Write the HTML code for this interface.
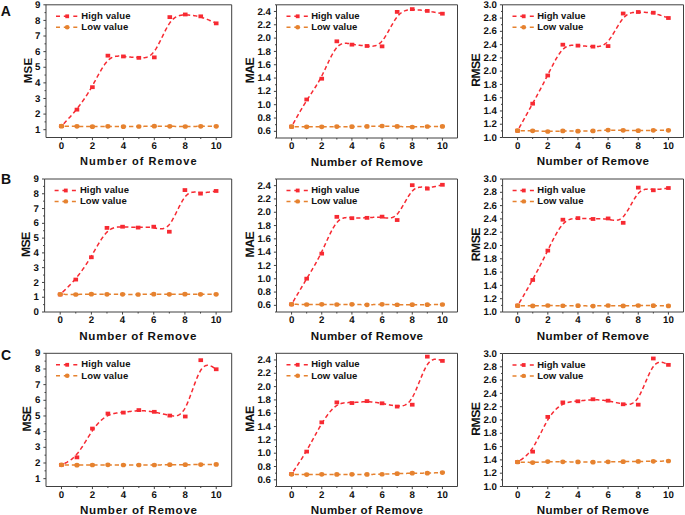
<!DOCTYPE html>
<html><head><meta charset="utf-8"><style>
html,body{margin:0;padding:0;background:#fff;}
svg{display:block;}
#wrap{width:685px;height:515px;}
text{font-family:"Liberation Sans", sans-serif;font-weight:bold;fill:#111111;}
.tl{font-size:9.4px;}
.tl2{font-size:9.7px;text-rendering:geometricPrecision;}
.at1{font-size:11px;letter-spacing:1.05px;}
.at2{font-size:11.6px;letter-spacing:0.4px;}
.at3{font-size:11.6px;letter-spacing:0.72px;}
.yl1{font-size:11.5px;letter-spacing:0.35px;}
.yl{font-size:12.2px;letter-spacing:-0.55px;text-rendering:geometricPrecision;}
.lg1{font-size:9.5px;letter-spacing:0.12px;}
.lg2{font-size:9.5px;letter-spacing:0.03px;}
.pl{font-size:14px;}
</style></head><body><div id="wrap">
<svg width="685" height="515" viewBox="0 0 685 515">
<rect width="685" height="515" fill="#fff"/>
<g>
<g><path d="M46.00 4.80H231.70V137.50H46.00Z" fill="none" stroke="#404040" stroke-width="1.0"/>
<path d="M43.40 129.69H46.00M43.40 114.08H46.00M43.40 98.47H46.00M43.40 82.86H46.00M43.40 67.25H46.00M43.40 51.64H46.00M43.40 36.02H46.00M43.40 20.41H46.00M43.40 4.80H46.00M44.50 121.89H46.00M44.50 106.28H46.00M44.50 90.66H46.00M44.50 75.05H46.00M44.50 59.44H46.00M44.50 43.83H46.00M44.50 28.22H46.00M44.50 12.61H46.00M61.48 137.50V140.10M92.42 137.50V140.10M123.38 137.50V140.10M154.32 137.50V140.10M185.28 137.50V140.10M216.22 137.50V140.10M76.95 137.50V139.00M107.90 137.50V139.00M138.85 137.50V139.00M169.80 137.50V139.00M200.75 137.50V139.00" stroke="#404040" stroke-width="1.0" fill="none"/>
<text x="40.40" y="132.79" text-anchor="end" class="tl2">1</text>
<text x="40.40" y="117.18" text-anchor="end" class="tl2">2</text>
<text x="40.40" y="101.57" text-anchor="end" class="tl2">3</text>
<text x="40.40" y="85.96" text-anchor="end" class="tl2">4</text>
<text x="40.40" y="70.35" text-anchor="end" class="tl2">5</text>
<text x="40.40" y="54.74" text-anchor="end" class="tl2">6</text>
<text x="40.40" y="39.12" text-anchor="end" class="tl2">7</text>
<text x="40.40" y="23.51" text-anchor="end" class="tl2">8</text>
<text x="40.40" y="7.90" text-anchor="end" class="tl2">9</text>
<text x="61.48" y="148.70" text-anchor="middle" class="tl2">0</text>
<text x="92.42" y="148.70" text-anchor="middle" class="tl2">2</text>
<text x="123.38" y="148.70" text-anchor="middle" class="tl2">4</text>
<text x="154.32" y="148.70" text-anchor="middle" class="tl2">6</text>
<text x="185.28" y="148.70" text-anchor="middle" class="tl2">8</text>
<text x="216.22" y="148.70" text-anchor="middle" class="tl2">10</text>
<text x="138.85" y="165.00" text-anchor="middle" class="at1">Number of Remove</text>
<text transform="translate(31.90 70.35) rotate(-90)" text-anchor="middle" class="yl1">MSE</text>
<path d="M56.00 16.30h4M63.80 16.30h4.5M73.30 16.30h4" stroke="#f72a32" stroke-width="1.5"/>
<rect x="65.30" y="14.40" width="3.8" height="3.8" fill="#f72a32"/>
<path d="M56.00 27.20h4M63.80 27.20h4.5M73.30 27.20h4" stroke="#e6822f" stroke-width="1.5"/>
<ellipse cx="67.20" cy="27.20" rx="2.4" ry="2.2" fill="#e6822f"/>
<text x="81.30" y="18.90" class="lg1">High value</text>
<text x="81.30" y="30.00" class="lg1">Low value</text>
<path d="M61.47 126.17 L62.12 125.49 L62.76 124.80 L63.41 124.12 L64.05 123.43 L64.70 122.74 L65.34 122.06 L65.99 121.36 L66.63 120.67 L67.28 119.97 L67.92 119.27 L68.57 118.56 L69.21 117.85 L69.86 117.13 L70.50 116.41 L71.15 115.68 L71.79 114.95 L72.44 114.20 L73.08 113.46 L73.73 112.70 L74.37 111.93 L75.02 111.16 L75.66 110.38 L76.31 109.58 L76.95 108.78 L77.59 107.97 L78.24 107.14 L78.88 106.31 L79.53 105.46 L80.17 104.61 L80.82 103.74 L81.46 102.85 L82.11 101.96 L82.75 101.05 L83.40 100.13 L84.04 99.20 L84.69 98.25 L85.33 97.29 L85.98 96.31 L86.62 95.32 L87.27 94.32 L87.91 93.30 L88.56 92.26 L89.20 91.21 L89.85 90.14 L90.49 89.06 L91.14 87.95 L91.78 86.84 L92.42 85.70 L93.07 84.55 L93.71 83.38 L94.36 82.20 L95.00 81.02 L95.65 79.83 L96.29 78.63 L96.94 77.44 L97.58 76.25 L98.23 75.08 L98.87 73.91 L99.52 72.76 L100.16 71.62 L100.81 70.51 L101.45 69.42 L102.10 68.35 L102.74 67.32 L103.39 66.32 L104.03 65.36 L104.68 64.44 L105.32 63.56 L105.97 62.72 L106.61 61.94 L107.26 61.21 L107.90 60.53 L108.54 59.92 L109.19 59.36 L109.83 58.85 L110.48 58.40 L111.12 58.00 L111.77 57.64 L112.41 57.33 L113.06 57.06 L113.70 56.83 L114.35 56.63 L114.99 56.47 L115.64 56.34 L116.28 56.24 L116.93 56.17 L117.57 56.13 L118.22 56.10 L118.86 56.10 L119.51 56.11 L120.15 56.14 L120.80 56.17 L121.44 56.22 L122.09 56.28 L122.73 56.34 L123.38 56.40 L124.02 56.47 L124.66 56.53 L125.31 56.59 L125.95 56.65 L126.60 56.72 L127.24 56.78 L127.89 56.84 L128.53 56.90 L129.18 56.96 L129.82 57.02 L130.47 57.07 L131.11 57.13 L131.76 57.19 L132.40 57.24 L133.05 57.30 L133.69 57.35 L134.34 57.40 L134.98 57.45 L135.63 57.50 L136.27 57.55 L136.92 57.59 L137.56 57.64 L138.21 57.68 L138.85 57.72 L139.49 57.76 L140.14 57.80 L140.78 57.82 L141.43 57.84 L142.07 57.84 L142.72 57.83 L143.36 57.79 L144.01 57.73 L144.65 57.65 L145.30 57.54 L145.94 57.40 L146.59 57.22 L147.23 57.00 L147.88 56.74 L148.52 56.44 L149.17 56.09 L149.81 55.70 L150.46 55.24 L151.10 54.74 L151.75 54.17 L152.39 53.54 L153.04 52.85 L153.68 52.09 L154.32 51.26 L154.97 50.35 L155.61 49.38 L156.26 48.34 L156.90 47.25 L157.55 46.11 L158.19 44.93 L158.84 43.70 L159.48 42.45 L160.13 41.17 L160.77 39.87 L161.42 38.55 L162.06 37.23 L162.71 35.90 L163.35 34.58 L164.00 33.27 L164.64 31.97 L165.29 30.70 L165.93 29.46 L166.58 28.25 L167.22 27.07 L167.87 25.95 L168.51 24.88 L169.16 23.86 L169.80 22.91 L170.44 22.03 L171.09 21.21 L171.73 20.46 L172.38 19.78 L173.02 19.15 L173.67 18.58 L174.31 18.06 L174.96 17.59 L175.60 17.17 L176.25 16.80 L176.89 16.48 L177.54 16.19 L178.18 15.94 L178.83 15.73 L179.47 15.55 L180.12 15.40 L180.76 15.28 L181.41 15.18 L182.05 15.10 L182.70 15.05 L183.34 15.01 L183.99 14.99 L184.63 14.98 L185.27 14.97 L185.92 14.98 L186.56 14.99 L187.21 15.00 L187.85 15.03 L188.50 15.06 L189.14 15.10 L189.79 15.14 L190.43 15.19 L191.08 15.25 L191.72 15.32 L192.37 15.39 L193.01 15.47 L193.66 15.56 L194.30 15.66 L194.95 15.77 L195.59 15.88 L196.24 16.00 L196.88 16.13 L197.53 16.27 L198.17 16.42 L198.82 16.58 L199.46 16.74 L200.11 16.91 L200.75 17.10 L201.39 17.29 L202.04 17.49 L202.68 17.70 L203.33 17.92 L203.97 18.14 L204.62 18.37 L205.26 18.61 L205.91 18.86 L206.55 19.11 L207.20 19.37 L207.84 19.63 L208.49 19.90 L209.13 20.17 L209.78 20.45 L210.42 20.73 L211.07 21.01 L211.71 21.30 L212.36 21.59 L213.00 21.88 L213.65 22.18 L214.29 22.47 L214.94 22.77 L215.58 23.07 L216.22 23.36" fill="none" stroke="#f72a32" stroke-width="1.5" stroke-dasharray="4.29 2.86" stroke-dashoffset="3.93"/>
<path d="M61.47 126.17 L62.12 126.17 L62.76 126.18 L63.41 126.19 L64.05 126.19 L64.70 126.20 L65.34 126.21 L65.99 126.21 L66.63 126.22 L67.28 126.23 L67.92 126.23 L68.57 126.24 L69.21 126.25 L69.86 126.26 L70.50 126.26 L71.15 126.27 L71.79 126.28 L72.44 126.29 L73.08 126.29 L73.73 126.30 L74.37 126.31 L75.02 126.32 L75.66 126.33 L76.31 126.34 L76.95 126.35 L77.59 126.36 L78.24 126.37 L78.88 126.38 L79.53 126.39 L80.17 126.40 L80.82 126.41 L81.46 126.42 L82.11 126.44 L82.75 126.45 L83.40 126.46 L84.04 126.47 L84.69 126.48 L85.33 126.48 L85.98 126.49 L86.62 126.50 L87.27 126.51 L87.91 126.52 L88.56 126.52 L89.20 126.53 L89.85 126.53 L90.49 126.53 L91.14 126.54 L91.78 126.54 L92.42 126.54 L93.07 126.54 L93.71 126.54 L94.36 126.53 L95.00 126.53 L95.65 126.53 L96.29 126.52 L96.94 126.51 L97.58 126.51 L98.23 126.50 L98.87 126.49 L99.52 126.49 L100.16 126.48 L100.81 126.47 L101.45 126.47 L102.10 126.46 L102.74 126.45 L103.39 126.45 L104.03 126.44 L104.68 126.44 L105.32 126.43 L105.97 126.43 L106.61 126.42 L107.26 126.42 L107.90 126.42 L108.54 126.42 L109.19 126.42 L109.83 126.43 L110.48 126.43 L111.12 126.43 L111.77 126.44 L112.41 126.45 L113.06 126.45 L113.70 126.46 L114.35 126.47 L114.99 126.47 L115.64 126.48 L116.28 126.49 L116.93 126.50 L117.57 126.51 L118.22 126.51 L118.86 126.52 L119.51 126.53 L120.15 126.54 L120.80 126.54 L121.44 126.55 L122.09 126.55 L122.73 126.56 L123.38 126.56 L124.02 126.57 L124.66 126.57 L125.31 126.57 L125.95 126.57 L126.60 126.57 L127.24 126.57 L127.89 126.57 L128.53 126.57 L129.18 126.56 L129.82 126.56 L130.47 126.56 L131.11 126.55 L131.76 126.55 L132.40 126.54 L133.05 126.53 L133.69 126.53 L134.34 126.52 L134.98 126.51 L135.63 126.50 L136.27 126.50 L136.92 126.49 L137.56 126.48 L138.21 126.47 L138.85 126.46 L139.49 126.45 L140.14 126.44 L140.78 126.42 L141.43 126.41 L142.07 126.40 L142.72 126.39 L143.36 126.38 L144.01 126.37 L144.65 126.36 L145.30 126.35 L145.94 126.34 L146.59 126.33 L147.23 126.32 L147.88 126.31 L148.52 126.30 L149.17 126.29 L149.81 126.28 L150.46 126.27 L151.10 126.27 L151.75 126.26 L152.39 126.25 L153.04 126.25 L153.68 126.24 L154.32 126.24 L154.97 126.24 L155.61 126.23 L156.26 126.23 L156.90 126.23 L157.55 126.23 L158.19 126.23 L158.84 126.23 L159.48 126.24 L160.13 126.24 L160.77 126.24 L161.42 126.25 L162.06 126.25 L162.71 126.25 L163.35 126.26 L164.00 126.27 L164.64 126.27 L165.29 126.28 L165.93 126.28 L166.58 126.29 L167.22 126.30 L167.87 126.30 L168.51 126.31 L169.16 126.32 L169.80 126.32 L170.44 126.33 L171.09 126.34 L171.73 126.34 L172.38 126.35 L173.02 126.36 L173.67 126.36 L174.31 126.37 L174.96 126.38 L175.60 126.38 L176.25 126.39 L176.89 126.39 L177.54 126.40 L178.18 126.40 L178.83 126.41 L179.47 126.41 L180.12 126.42 L180.76 126.42 L181.41 126.42 L182.05 126.43 L182.70 126.43 L183.34 126.43 L183.99 126.43 L184.63 126.43 L185.27 126.43 L185.92 126.43 L186.56 126.43 L187.21 126.43 L187.85 126.43 L188.50 126.43 L189.14 126.42 L189.79 126.42 L190.43 126.42 L191.08 126.41 L191.72 126.41 L192.37 126.40 L193.01 126.40 L193.66 126.40 L194.30 126.39 L194.95 126.39 L195.59 126.38 L196.24 126.38 L196.88 126.37 L197.53 126.37 L198.17 126.36 L198.82 126.36 L199.46 126.36 L200.11 126.35 L200.75 126.35 L201.39 126.35 L202.04 126.34 L202.68 126.34 L203.33 126.34 L203.97 126.34 L204.62 126.33 L205.26 126.33 L205.91 126.33 L206.55 126.33 L207.20 126.33 L207.84 126.33 L208.49 126.33 L209.13 126.32 L209.78 126.32 L210.42 126.32 L211.07 126.32 L211.71 126.32 L212.36 126.32 L213.00 126.32 L213.65 126.32 L214.29 126.32 L214.94 126.32 L215.58 126.32 L216.22 126.32" fill="none" stroke="#e6822f" stroke-width="1.5" stroke-dasharray="4.29 2.86" stroke-dashoffset="3.93"/>
<rect x="59.18" y="124.27" width="4.6" height="3.8" fill="#f72a32"/>
<rect x="74.65" y="107.73" width="4.6" height="3.8" fill="#f72a32"/>
<rect x="90.12" y="85.27" width="4.6" height="3.8" fill="#f72a32"/>
<rect x="105.60" y="53.76" width="4.6" height="3.8" fill="#f72a32"/>
<rect x="121.08" y="54.54" width="4.6" height="3.8" fill="#f72a32"/>
<rect x="136.55" y="55.94" width="4.6" height="3.8" fill="#f72a32"/>
<rect x="152.02" y="55.47" width="4.6" height="3.8" fill="#f72a32"/>
<rect x="167.50" y="15.22" width="4.6" height="3.8" fill="#f72a32"/>
<rect x="182.97" y="12.57" width="4.6" height="3.8" fill="#f72a32"/>
<rect x="198.45" y="14.44" width="4.6" height="3.8" fill="#f72a32"/>
<rect x="213.92" y="21.46" width="4.6" height="3.8" fill="#f72a32"/>
<ellipse cx="61.48" cy="126.17" rx="2.6" ry="2.35" fill="#e6822f"/>
<ellipse cx="76.95" cy="126.32" rx="2.6" ry="2.35" fill="#e6822f"/>
<ellipse cx="92.42" cy="126.64" rx="2.6" ry="2.35" fill="#e6822f"/>
<ellipse cx="107.90" cy="126.32" rx="2.6" ry="2.35" fill="#e6822f"/>
<ellipse cx="123.38" cy="126.64" rx="2.6" ry="2.35" fill="#e6822f"/>
<ellipse cx="138.85" cy="126.48" rx="2.6" ry="2.35" fill="#e6822f"/>
<ellipse cx="154.32" cy="126.17" rx="2.6" ry="2.35" fill="#e6822f"/>
<ellipse cx="169.80" cy="126.32" rx="2.6" ry="2.35" fill="#e6822f"/>
<ellipse cx="185.28" cy="126.48" rx="2.6" ry="2.35" fill="#e6822f"/>
<ellipse cx="200.75" cy="126.32" rx="2.6" ry="2.35" fill="#e6822f"/>
<ellipse cx="216.22" cy="126.32" rx="2.6" ry="2.35" fill="#e6822f"/></g>
<g><path d="M276.50 4.80H457.50V138.00H276.50Z" fill="none" stroke="#404040" stroke-width="1.0"/>
<path d="M273.90 131.34H276.50M273.90 118.02H276.50M273.90 104.70H276.50M273.90 91.38H276.50M273.90 78.06H276.50M273.90 64.74H276.50M273.90 51.42H276.50M273.90 38.10H276.50M273.90 24.78H276.50M273.90 11.46H276.50M275.00 138.00H276.50M275.00 124.68H276.50M275.00 111.36H276.50M275.00 98.04H276.50M275.00 84.72H276.50M275.00 71.40H276.50M275.00 58.08H276.50M275.00 44.76H276.50M275.00 31.44H276.50M275.00 18.12H276.50M275.00 4.80H276.50M291.58 138.00V140.60M321.75 138.00V140.60M351.92 138.00V140.60M382.08 138.00V140.60M412.25 138.00V140.60M442.42 138.00V140.60M306.67 138.00V139.50M336.83 138.00V139.50M367.00 138.00V139.50M397.17 138.00V139.50M427.33 138.00V139.50" stroke="#404040" stroke-width="1.0" fill="none"/>
<text x="270.90" y="134.44" text-anchor="end" class="tl2">0.6</text>
<text x="270.90" y="121.12" text-anchor="end" class="tl2">0.8</text>
<text x="270.90" y="107.80" text-anchor="end" class="tl2">1.0</text>
<text x="270.90" y="94.48" text-anchor="end" class="tl2">1.2</text>
<text x="270.90" y="81.16" text-anchor="end" class="tl2">1.4</text>
<text x="270.90" y="67.84" text-anchor="end" class="tl2">1.6</text>
<text x="270.90" y="54.52" text-anchor="end" class="tl2">1.8</text>
<text x="270.90" y="41.20" text-anchor="end" class="tl2">2.0</text>
<text x="270.90" y="27.88" text-anchor="end" class="tl2">2.2</text>
<text x="270.90" y="14.56" text-anchor="end" class="tl2">2.4</text>
<text x="291.58" y="149.20" text-anchor="middle" class="tl2">0</text>
<text x="321.75" y="149.20" text-anchor="middle" class="tl2">2</text>
<text x="351.92" y="149.20" text-anchor="middle" class="tl2">4</text>
<text x="382.08" y="149.20" text-anchor="middle" class="tl2">6</text>
<text x="412.25" y="149.20" text-anchor="middle" class="tl2">8</text>
<text x="442.42" y="149.20" text-anchor="middle" class="tl2">10</text>
<text x="367.00" y="165.50" text-anchor="middle" class="at2">Number of Remove</text>
<text transform="translate(254.20 70.60) rotate(-90)" text-anchor="middle" class="yl">MAE</text>
<path d="M286.50 16.30h4M294.30 16.30h4.5M303.80 16.30h4" stroke="#f72a32" stroke-width="1.5"/>
<rect x="295.80" y="14.40" width="3.8" height="3.8" fill="#f72a32"/>
<path d="M286.50 27.20h4M294.30 27.20h4.5M303.80 27.20h4" stroke="#e6822f" stroke-width="1.5"/>
<ellipse cx="297.70" cy="27.20" rx="2.4" ry="2.2" fill="#e6822f"/>
<text x="311.20" y="18.90" class="lg2">High value</text>
<text x="311.20" y="30.00" class="lg2">Low value</text>
<path d="M291.58 126.64 L292.21 125.51 L292.84 124.37 L293.47 123.23 L294.10 122.10 L294.73 120.96 L295.35 119.83 L295.98 118.71 L296.61 117.58 L297.24 116.46 L297.87 115.35 L298.50 114.24 L299.12 113.13 L299.75 112.04 L300.38 110.94 L301.01 109.86 L301.64 108.78 L302.27 107.72 L302.90 106.66 L303.52 105.61 L304.15 104.57 L304.78 103.54 L305.41 102.52 L306.04 101.51 L306.67 100.51 L307.30 99.53 L307.92 98.55 L308.55 97.59 L309.18 96.63 L309.81 95.68 L310.44 94.73 L311.07 93.78 L311.69 92.83 L312.32 91.87 L312.95 90.92 L313.58 89.95 L314.21 88.98 L314.84 88.00 L315.47 87.01 L316.09 86.00 L316.72 84.98 L317.35 83.94 L317.98 82.88 L318.61 81.80 L319.24 80.70 L319.86 79.57 L320.49 78.41 L321.12 77.23 L321.75 76.02 L322.38 74.77 L323.01 73.50 L323.64 72.20 L324.26 70.89 L324.89 69.56 L325.52 68.22 L326.15 66.87 L326.78 65.53 L327.41 64.18 L328.03 62.85 L328.66 61.53 L329.29 60.22 L329.92 58.94 L330.55 57.68 L331.18 56.45 L331.81 55.26 L332.43 54.11 L333.06 53.00 L333.69 51.93 L334.32 50.92 L334.95 49.97 L335.58 49.08 L336.20 48.26 L336.83 47.50 L337.46 46.82 L338.09 46.21 L338.72 45.67 L339.35 45.20 L339.98 44.78 L340.60 44.43 L341.23 44.13 L341.86 43.88 L342.49 43.68 L343.12 43.52 L343.75 43.41 L344.37 43.33 L345.00 43.29 L345.63 43.28 L346.26 43.30 L346.89 43.34 L347.52 43.41 L348.15 43.49 L348.77 43.59 L349.40 43.69 L350.03 43.81 L350.66 43.93 L351.29 44.05 L351.92 44.18 L352.55 44.29 L353.17 44.40 L353.80 44.51 L354.43 44.61 L355.06 44.71 L355.69 44.80 L356.32 44.89 L356.94 44.97 L357.57 45.05 L358.20 45.13 L358.83 45.20 L359.46 45.28 L360.09 45.34 L360.72 45.41 L361.34 45.47 L361.97 45.54 L362.60 45.60 L363.23 45.65 L363.86 45.71 L364.49 45.77 L365.11 45.82 L365.74 45.88 L366.37 45.93 L367.00 45.98 L367.63 46.03 L368.26 46.08 L368.89 46.13 L369.51 46.16 L370.14 46.19 L370.77 46.20 L371.40 46.20 L372.03 46.17 L372.66 46.13 L373.28 46.06 L373.91 45.96 L374.54 45.83 L375.17 45.68 L375.80 45.48 L376.43 45.25 L377.06 44.98 L377.68 44.66 L378.31 44.30 L378.94 43.89 L379.57 43.43 L380.20 42.91 L380.83 42.34 L381.45 41.70 L382.08 41.01 L382.71 40.25 L383.34 39.43 L383.97 38.56 L384.60 37.64 L385.23 36.67 L385.85 35.67 L386.48 34.63 L387.11 33.56 L387.74 32.47 L388.37 31.36 L389.00 30.24 L389.63 29.11 L390.25 27.97 L390.88 26.84 L391.51 25.72 L392.14 24.60 L392.77 23.51 L393.40 22.44 L394.02 21.40 L394.65 20.39 L395.28 19.41 L395.91 18.49 L396.54 17.61 L397.17 16.78 L397.80 16.01 L398.42 15.30 L399.05 14.65 L399.68 14.04 L400.31 13.49 L400.94 12.99 L401.57 12.53 L402.19 12.11 L402.82 11.74 L403.45 11.41 L404.08 11.11 L404.71 10.85 L405.34 10.62 L405.97 10.42 L406.59 10.25 L407.22 10.11 L407.85 9.99 L408.48 9.90 L409.11 9.82 L409.74 9.76 L410.36 9.72 L410.99 9.69 L411.62 9.68 L412.25 9.67 L412.88 9.67 L413.51 9.67 L414.14 9.68 L414.76 9.70 L415.39 9.73 L416.02 9.76 L416.65 9.79 L417.28 9.83 L417.91 9.88 L418.53 9.93 L419.16 9.98 L419.79 10.05 L420.42 10.11 L421.05 10.18 L421.68 10.25 L422.31 10.33 L422.93 10.41 L423.56 10.49 L424.19 10.57 L424.82 10.66 L425.45 10.75 L426.08 10.85 L426.70 10.94 L427.33 11.04 L427.96 11.14 L428.59 11.24 L429.22 11.34 L429.85 11.44 L430.48 11.55 L431.10 11.65 L431.73 11.76 L432.36 11.87 L432.99 11.98 L433.62 12.09 L434.25 12.20 L434.88 12.31 L435.50 12.42 L436.13 12.54 L436.76 12.65 L437.39 12.77 L438.02 12.88 L438.65 13.00 L439.27 13.11 L439.90 13.23 L440.53 13.35 L441.16 13.46 L441.79 13.58 L442.42 13.70" fill="none" stroke="#f72a32" stroke-width="1.5" stroke-dasharray="4.18 2.78" stroke-dashoffset="3.83"/>
<path d="M291.58 126.64 L292.21 126.65 L292.84 126.66 L293.47 126.66 L294.10 126.67 L294.73 126.67 L295.35 126.68 L295.98 126.68 L296.61 126.69 L297.24 126.69 L297.87 126.70 L298.50 126.70 L299.12 126.71 L299.75 126.72 L300.38 126.72 L301.01 126.73 L301.64 126.73 L302.27 126.74 L302.90 126.74 L303.52 126.75 L304.15 126.75 L304.78 126.75 L305.41 126.76 L306.04 126.76 L306.67 126.77 L307.30 126.77 L307.92 126.78 L308.55 126.78 L309.18 126.78 L309.81 126.79 L310.44 126.79 L311.07 126.79 L311.69 126.80 L312.32 126.80 L312.95 126.80 L313.58 126.80 L314.21 126.81 L314.84 126.81 L315.47 126.81 L316.09 126.81 L316.72 126.81 L317.35 126.81 L317.98 126.81 L318.61 126.81 L319.24 126.80 L319.86 126.80 L320.49 126.80 L321.12 126.80 L321.75 126.79 L322.38 126.79 L323.01 126.78 L323.64 126.78 L324.26 126.77 L324.89 126.76 L325.52 126.76 L326.15 126.75 L326.78 126.74 L327.41 126.73 L328.03 126.73 L328.66 126.72 L329.29 126.71 L329.92 126.70 L330.55 126.70 L331.18 126.69 L331.81 126.68 L332.43 126.67 L333.06 126.67 L333.69 126.66 L334.32 126.66 L334.95 126.65 L335.58 126.65 L336.20 126.64 L336.83 126.64 L337.46 126.64 L338.09 126.64 L338.72 126.64 L339.35 126.63 L339.98 126.63 L340.60 126.64 L341.23 126.64 L341.86 126.64 L342.49 126.64 L343.12 126.64 L343.75 126.64 L344.37 126.64 L345.00 126.65 L345.63 126.65 L346.26 126.65 L346.89 126.65 L347.52 126.65 L348.15 126.65 L348.77 126.65 L349.40 126.65 L350.03 126.65 L350.66 126.65 L351.29 126.65 L351.92 126.65 L352.55 126.65 L353.17 126.64 L353.80 126.64 L354.43 126.63 L355.06 126.63 L355.69 126.62 L356.32 126.62 L356.94 126.61 L357.57 126.60 L358.20 126.59 L358.83 126.58 L359.46 126.57 L360.09 126.56 L360.72 126.55 L361.34 126.54 L361.97 126.53 L362.60 126.51 L363.23 126.50 L363.86 126.49 L364.49 126.47 L365.11 126.46 L365.74 126.44 L366.37 126.43 L367.00 126.41 L367.63 126.40 L368.26 126.38 L368.89 126.36 L369.51 126.35 L370.14 126.33 L370.77 126.31 L371.40 126.30 L372.03 126.28 L372.66 126.26 L373.28 126.25 L373.91 126.23 L374.54 126.22 L375.17 126.21 L375.80 126.19 L376.43 126.18 L377.06 126.17 L377.68 126.16 L378.31 126.15 L378.94 126.14 L379.57 126.13 L380.20 126.13 L380.83 126.12 L381.45 126.12 L382.08 126.12 L382.71 126.12 L383.34 126.12 L383.97 126.13 L384.60 126.13 L385.23 126.14 L385.85 126.15 L386.48 126.16 L387.11 126.17 L387.74 126.18 L388.37 126.19 L389.00 126.21 L389.63 126.22 L390.25 126.24 L390.88 126.25 L391.51 126.27 L392.14 126.29 L392.77 126.31 L393.40 126.33 L394.02 126.35 L394.65 126.37 L395.28 126.39 L395.91 126.41 L396.54 126.43 L397.17 126.46 L397.80 126.48 L398.42 126.50 L399.05 126.52 L399.68 126.54 L400.31 126.56 L400.94 126.58 L401.57 126.61 L402.19 126.63 L402.82 126.65 L403.45 126.67 L404.08 126.68 L404.71 126.70 L405.34 126.72 L405.97 126.73 L406.59 126.75 L407.22 126.76 L407.85 126.78 L408.48 126.79 L409.11 126.80 L409.74 126.81 L410.36 126.81 L410.99 126.82 L411.62 126.82 L412.25 126.82 L412.88 126.82 L413.51 126.82 L414.14 126.82 L414.76 126.82 L415.39 126.81 L416.02 126.80 L416.65 126.79 L417.28 126.78 L417.91 126.77 L418.53 126.76 L419.16 126.75 L419.79 126.74 L420.42 126.73 L421.05 126.71 L421.68 126.70 L422.31 126.68 L422.93 126.67 L423.56 126.65 L424.19 126.64 L424.82 126.63 L425.45 126.61 L426.08 126.60 L426.70 126.59 L427.33 126.58 L427.96 126.56 L428.59 126.55 L429.22 126.54 L429.85 126.53 L430.48 126.53 L431.10 126.52 L431.73 126.51 L432.36 126.50 L432.99 126.50 L433.62 126.49 L434.25 126.49 L434.88 126.48 L435.50 126.48 L436.13 126.47 L436.76 126.47 L437.39 126.47 L438.02 126.46 L438.65 126.46 L439.27 126.46 L439.90 126.45 L440.53 126.45 L441.16 126.45 L441.79 126.45 L442.42 126.44" fill="none" stroke="#e6822f" stroke-width="1.5" stroke-dasharray="4.18 2.78" stroke-dashoffset="3.83"/>
<rect x="289.28" y="124.74" width="4.6" height="3.8" fill="#f72a32"/>
<rect x="304.37" y="97.59" width="4.6" height="3.8" fill="#f72a32"/>
<rect x="319.45" y="76.80" width="4.6" height="3.8" fill="#f72a32"/>
<rect x="334.53" y="39.42" width="4.6" height="3.8" fill="#f72a32"/>
<rect x="349.62" y="42.74" width="4.6" height="3.8" fill="#f72a32"/>
<rect x="364.70" y="44.07" width="4.6" height="3.8" fill="#f72a32"/>
<rect x="379.78" y="44.47" width="4.6" height="3.8" fill="#f72a32"/>
<rect x="394.87" y="10.00" width="4.6" height="3.8" fill="#f72a32"/>
<rect x="409.95" y="7.22" width="4.6" height="3.8" fill="#f72a32"/>
<rect x="425.03" y="9.01" width="4.6" height="3.8" fill="#f72a32"/>
<rect x="440.12" y="11.80" width="4.6" height="3.8" fill="#f72a32"/>
<ellipse cx="291.58" cy="126.64" rx="2.6" ry="2.35" fill="#e6822f"/>
<ellipse cx="306.67" cy="126.78" rx="2.6" ry="2.35" fill="#e6822f"/>
<ellipse cx="321.75" cy="126.84" rx="2.6" ry="2.35" fill="#e6822f"/>
<ellipse cx="336.83" cy="126.58" rx="2.6" ry="2.35" fill="#e6822f"/>
<ellipse cx="351.92" cy="126.71" rx="2.6" ry="2.35" fill="#e6822f"/>
<ellipse cx="367.00" cy="126.44" rx="2.6" ry="2.35" fill="#e6822f"/>
<ellipse cx="382.08" cy="125.98" rx="2.6" ry="2.35" fill="#e6822f"/>
<ellipse cx="397.17" cy="126.44" rx="2.6" ry="2.35" fill="#e6822f"/>
<ellipse cx="412.25" cy="126.98" rx="2.6" ry="2.35" fill="#e6822f"/>
<ellipse cx="427.33" cy="126.51" rx="2.6" ry="2.35" fill="#e6822f"/>
<ellipse cx="442.42" cy="126.44" rx="2.6" ry="2.35" fill="#e6822f"/></g>
<g><path d="M502.50 4.80H683.50V137.50H502.50Z" fill="none" stroke="#404040" stroke-width="1.0"/>
<path d="M499.90 137.50H502.50M499.90 124.23H502.50M499.90 110.96H502.50M499.90 97.69H502.50M499.90 84.42H502.50M499.90 71.15H502.50M499.90 57.88H502.50M499.90 44.61H502.50M499.90 31.34H502.50M499.90 18.07H502.50M499.90 4.80H502.50M501.00 130.87H502.50M501.00 117.59H502.50M501.00 104.33H502.50M501.00 91.06H502.50M501.00 77.79H502.50M501.00 64.52H502.50M501.00 51.25H502.50M501.00 37.98H502.50M501.00 24.70H502.50M501.00 11.44H502.50M517.58 137.50V140.10M547.75 137.50V140.10M577.92 137.50V140.10M608.08 137.50V140.10M638.25 137.50V140.10M668.42 137.50V140.10M532.67 137.50V139.00M562.83 137.50V139.00M593.00 137.50V139.00M623.17 137.50V139.00M653.33 137.50V139.00" stroke="#404040" stroke-width="1.0" fill="none"/>
<text x="496.90" y="140.60" text-anchor="end" class="tl2">1.0</text>
<text x="496.90" y="127.33" text-anchor="end" class="tl2">1.2</text>
<text x="496.90" y="114.06" text-anchor="end" class="tl2">1.4</text>
<text x="496.90" y="100.79" text-anchor="end" class="tl2">1.6</text>
<text x="496.90" y="87.52" text-anchor="end" class="tl2">1.8</text>
<text x="496.90" y="74.25" text-anchor="end" class="tl2">2.0</text>
<text x="496.90" y="60.98" text-anchor="end" class="tl2">2.2</text>
<text x="496.90" y="47.71" text-anchor="end" class="tl2">2.4</text>
<text x="496.90" y="34.44" text-anchor="end" class="tl2">2.6</text>
<text x="496.90" y="21.17" text-anchor="end" class="tl2">2.8</text>
<text x="496.90" y="7.90" text-anchor="end" class="tl2">3.0</text>
<text x="517.58" y="148.70" text-anchor="middle" class="tl2">0</text>
<text x="547.75" y="148.70" text-anchor="middle" class="tl2">2</text>
<text x="577.92" y="148.70" text-anchor="middle" class="tl2">4</text>
<text x="608.08" y="148.70" text-anchor="middle" class="tl2">6</text>
<text x="638.25" y="148.70" text-anchor="middle" class="tl2">8</text>
<text x="668.42" y="148.70" text-anchor="middle" class="tl2">10</text>
<text x="593.00" y="165.00" text-anchor="middle" class="at2">Number of Remove</text>
<text transform="translate(480.00 70.35) rotate(-90)" text-anchor="middle" class="yl">RMSE</text>
<path d="M512.50 16.30h4M520.30 16.30h4.5M529.80 16.30h4" stroke="#f72a32" stroke-width="1.5"/>
<rect x="521.80" y="14.40" width="3.8" height="3.8" fill="#f72a32"/>
<path d="M512.50 27.20h4M520.30 27.20h4.5M529.80 27.20h4" stroke="#e6822f" stroke-width="1.5"/>
<ellipse cx="523.70" cy="27.20" rx="2.4" ry="2.2" fill="#e6822f"/>
<text x="537.20" y="18.90" class="lg2">High value</text>
<text x="537.20" y="30.00" class="lg2">Low value</text>
<path d="M517.58 130.69 L518.21 129.57 L518.84 128.44 L519.47 127.32 L520.10 126.19 L520.73 125.07 L521.35 123.94 L521.98 122.82 L522.61 121.69 L523.24 120.56 L523.87 119.43 L524.50 118.30 L525.13 117.17 L525.75 116.04 L526.38 114.91 L527.01 113.78 L527.64 112.64 L528.27 111.51 L528.90 110.37 L529.52 109.23 L530.15 108.09 L530.78 106.95 L531.41 105.80 L532.04 104.66 L532.67 103.51 L533.30 102.36 L533.92 101.21 L534.55 100.05 L535.18 98.89 L535.81 97.73 L536.44 96.57 L537.07 95.41 L537.69 94.24 L538.32 93.06 L538.95 91.89 L539.58 90.71 L540.21 89.53 L540.84 88.34 L541.47 87.15 L542.09 85.95 L542.72 84.75 L543.35 83.54 L543.98 82.33 L544.61 81.12 L545.24 79.90 L545.86 78.67 L546.49 77.44 L547.12 76.20 L547.75 74.96 L548.38 73.71 L549.01 72.46 L549.64 71.21 L550.26 69.96 L550.89 68.71 L551.52 67.47 L552.15 66.24 L552.78 65.03 L553.41 63.83 L554.03 62.64 L554.66 61.48 L555.29 60.34 L555.92 59.23 L556.55 58.14 L557.18 57.09 L557.81 56.07 L558.43 55.09 L559.06 54.15 L559.69 53.25 L560.32 52.39 L560.95 51.58 L561.58 50.82 L562.20 50.11 L562.83 49.46 L563.46 48.87 L564.09 48.33 L564.72 47.84 L565.35 47.40 L565.98 47.02 L566.60 46.67 L567.23 46.37 L567.86 46.12 L568.49 45.90 L569.12 45.71 L569.75 45.56 L570.37 45.44 L571.00 45.35 L571.63 45.28 L572.26 45.24 L572.89 45.22 L573.52 45.21 L574.15 45.23 L574.77 45.25 L575.40 45.29 L576.03 45.34 L576.66 45.39 L577.29 45.45 L577.92 45.50 L578.55 45.56 L579.17 45.62 L579.80 45.67 L580.43 45.72 L581.06 45.77 L581.69 45.82 L582.32 45.87 L582.94 45.92 L583.57 45.97 L584.20 46.01 L584.83 46.06 L585.46 46.10 L586.09 46.14 L586.72 46.18 L587.34 46.22 L587.97 46.26 L588.60 46.30 L589.23 46.33 L589.86 46.37 L590.49 46.40 L591.11 46.43 L591.74 46.46 L592.37 46.49 L593.00 46.51 L593.63 46.54 L594.26 46.56 L594.89 46.58 L595.51 46.58 L596.14 46.58 L596.77 46.56 L597.40 46.53 L598.03 46.47 L598.66 46.40 L599.28 46.30 L599.91 46.18 L600.54 46.03 L601.17 45.85 L601.80 45.64 L602.43 45.39 L603.06 45.10 L603.68 44.77 L604.31 44.40 L604.94 43.99 L605.57 43.53 L606.20 43.01 L606.83 42.45 L607.45 41.83 L608.08 41.15 L608.71 40.42 L609.34 39.63 L609.97 38.79 L610.60 37.90 L611.23 36.98 L611.85 36.02 L612.48 35.03 L613.11 34.01 L613.74 32.97 L614.37 31.92 L615.00 30.86 L615.62 29.79 L616.25 28.72 L616.88 27.66 L617.51 26.60 L618.14 25.56 L618.77 24.53 L619.40 23.53 L620.02 22.56 L620.65 21.62 L621.28 20.72 L621.91 19.86 L622.54 19.06 L623.17 18.30 L623.80 17.60 L624.42 16.96 L625.05 16.37 L625.68 15.83 L626.31 15.34 L626.94 14.89 L627.57 14.49 L628.19 14.13 L628.82 13.81 L629.45 13.53 L630.08 13.28 L630.71 13.07 L631.34 12.88 L631.97 12.73 L632.59 12.60 L633.22 12.49 L633.85 12.40 L634.48 12.33 L635.11 12.28 L635.74 12.24 L636.36 12.22 L636.99 12.20 L637.62 12.19 L638.25 12.19 L638.88 12.19 L639.51 12.19 L640.14 12.19 L640.76 12.20 L641.39 12.21 L642.02 12.23 L642.65 12.24 L643.28 12.27 L643.91 12.30 L644.53 12.33 L645.16 12.36 L645.79 12.41 L646.42 12.45 L647.05 12.51 L647.68 12.57 L648.31 12.63 L648.93 12.70 L649.56 12.78 L650.19 12.87 L650.82 12.96 L651.45 13.06 L652.08 13.16 L652.70 13.28 L653.33 13.40 L653.96 13.53 L654.59 13.67 L655.22 13.81 L655.85 13.97 L656.48 14.13 L657.10 14.29 L657.73 14.47 L658.36 14.64 L658.99 14.83 L659.62 15.02 L660.25 15.21 L660.88 15.41 L661.50 15.61 L662.13 15.82 L662.76 16.03 L663.39 16.24 L664.02 16.46 L664.65 16.67 L665.27 16.89 L665.90 17.11 L666.53 17.34 L667.16 17.56 L667.79 17.79 L668.42 18.01" fill="none" stroke="#f72a32" stroke-width="1.5" stroke-dasharray="4.18 2.78" stroke-dashoffset="3.83"/>
<path d="M517.58 130.69 L518.21 130.70 L518.84 130.70 L519.47 130.71 L520.10 130.71 L520.73 130.72 L521.35 130.72 L521.98 130.73 L522.61 130.73 L523.24 130.74 L523.87 130.75 L524.50 130.76 L525.13 130.76 L525.75 130.77 L526.38 130.78 L527.01 130.79 L527.64 130.80 L528.27 130.81 L528.90 130.82 L529.52 130.83 L530.15 130.85 L530.78 130.86 L531.41 130.88 L532.04 130.89 L532.67 130.91 L533.30 130.93 L533.92 130.94 L534.55 130.96 L535.18 130.98 L535.81 131.00 L536.44 131.02 L537.07 131.04 L537.69 131.07 L538.32 131.09 L538.95 131.11 L539.58 131.13 L540.21 131.15 L540.84 131.17 L541.47 131.19 L542.09 131.20 L542.72 131.22 L543.35 131.23 L543.98 131.25 L544.61 131.26 L545.24 131.27 L545.86 131.28 L546.49 131.29 L547.12 131.30 L547.75 131.30 L548.38 131.30 L549.01 131.30 L549.64 131.30 L550.26 131.29 L550.89 131.29 L551.52 131.28 L552.15 131.27 L552.78 131.26 L553.41 131.25 L554.03 131.24 L554.66 131.23 L555.29 131.22 L555.92 131.20 L556.55 131.19 L557.18 131.18 L557.81 131.16 L558.43 131.15 L559.06 131.14 L559.69 131.13 L560.32 131.12 L560.95 131.11 L561.58 131.10 L562.20 131.09 L562.83 131.08 L563.46 131.08 L564.09 131.07 L564.72 131.07 L565.35 131.07 L565.98 131.07 L566.60 131.07 L567.23 131.07 L567.86 131.07 L568.49 131.08 L569.12 131.08 L569.75 131.09 L570.37 131.09 L571.00 131.10 L571.63 131.10 L572.26 131.11 L572.89 131.11 L573.52 131.12 L574.15 131.12 L574.77 131.13 L575.40 131.13 L576.03 131.13 L576.66 131.14 L577.29 131.14 L577.92 131.14 L578.55 131.14 L579.17 131.14 L579.80 131.14 L580.43 131.13 L581.06 131.13 L581.69 131.13 L582.32 131.12 L582.94 131.11 L583.57 131.11 L584.20 131.10 L584.83 131.09 L585.46 131.08 L586.09 131.06 L586.72 131.05 L587.34 131.04 L587.97 131.02 L588.60 131.01 L589.23 130.99 L589.86 130.97 L590.49 130.95 L591.11 130.93 L591.74 130.91 L592.37 130.89 L593.00 130.86 L593.63 130.84 L594.26 130.81 L594.89 130.79 L595.51 130.76 L596.14 130.73 L596.77 130.70 L597.40 130.67 L598.03 130.65 L598.66 130.62 L599.28 130.59 L599.91 130.56 L600.54 130.53 L601.17 130.50 L601.80 130.47 L602.43 130.45 L603.06 130.42 L603.68 130.40 L604.31 130.37 L604.94 130.35 L605.57 130.33 L606.20 130.31 L606.83 130.29 L607.45 130.27 L608.08 130.26 L608.71 130.24 L609.34 130.23 L609.97 130.22 L610.60 130.22 L611.23 130.21 L611.85 130.20 L612.48 130.20 L613.11 130.20 L613.74 130.20 L614.37 130.20 L615.00 130.20 L615.62 130.21 L616.25 130.21 L616.88 130.22 L617.51 130.23 L618.14 130.23 L618.77 130.24 L619.40 130.25 L620.02 130.26 L620.65 130.27 L621.28 130.29 L621.91 130.30 L622.54 130.31 L623.17 130.32 L623.80 130.34 L624.42 130.35 L625.05 130.36 L625.68 130.38 L626.31 130.39 L626.94 130.41 L627.57 130.42 L628.19 130.44 L628.82 130.45 L629.45 130.46 L630.08 130.47 L630.71 130.49 L631.34 130.50 L631.97 130.51 L632.59 130.52 L633.22 130.53 L633.85 130.54 L634.48 130.55 L635.11 130.55 L635.74 130.56 L636.36 130.56 L636.99 130.57 L637.62 130.57 L638.25 130.57 L638.88 130.57 L639.51 130.57 L640.14 130.56 L640.76 130.56 L641.39 130.55 L642.02 130.55 L642.65 130.54 L643.28 130.53 L643.91 130.52 L644.53 130.51 L645.16 130.50 L645.79 130.49 L646.42 130.48 L647.05 130.47 L647.68 130.46 L648.31 130.45 L648.93 130.43 L649.56 130.42 L650.19 130.41 L650.82 130.40 L651.45 130.39 L652.08 130.38 L652.70 130.38 L653.33 130.37 L653.96 130.36 L654.59 130.35 L655.22 130.35 L655.85 130.35 L656.48 130.34 L657.10 130.34 L657.73 130.34 L658.36 130.33 L658.99 130.33 L659.62 130.33 L660.25 130.33 L660.88 130.33 L661.50 130.33 L662.13 130.33 L662.76 130.34 L663.39 130.34 L664.02 130.34 L664.65 130.34 L665.27 130.35 L665.90 130.35 L666.53 130.35 L667.16 130.35 L667.79 130.36 L668.42 130.36" fill="none" stroke="#e6822f" stroke-width="1.5" stroke-dasharray="4.18 2.78" stroke-dashoffset="3.83"/>
<rect x="515.28" y="128.79" width="4.6" height="3.8" fill="#f72a32"/>
<rect x="530.37" y="101.78" width="4.6" height="3.8" fill="#f72a32"/>
<rect x="545.45" y="73.57" width="4.6" height="3.8" fill="#f72a32"/>
<rect x="560.53" y="42.79" width="4.6" height="3.8" fill="#f72a32"/>
<rect x="575.62" y="43.72" width="4.6" height="3.8" fill="#f72a32"/>
<rect x="590.70" y="44.71" width="4.6" height="3.8" fill="#f72a32"/>
<rect x="605.78" y="44.18" width="4.6" height="3.8" fill="#f72a32"/>
<rect x="620.87" y="11.62" width="4.6" height="3.8" fill="#f72a32"/>
<rect x="635.95" y="10.10" width="4.6" height="3.8" fill="#f72a32"/>
<rect x="651.03" y="10.83" width="4.6" height="3.8" fill="#f72a32"/>
<rect x="666.12" y="16.11" width="4.6" height="3.8" fill="#f72a32"/>
<ellipse cx="517.58" cy="130.69" rx="2.6" ry="2.35" fill="#e6822f"/>
<ellipse cx="532.67" cy="130.82" rx="2.6" ry="2.35" fill="#e6822f"/>
<ellipse cx="547.75" cy="131.48" rx="2.6" ry="2.35" fill="#e6822f"/>
<ellipse cx="562.83" cy="130.96" rx="2.6" ry="2.35" fill="#e6822f"/>
<ellipse cx="577.92" cy="131.22" rx="2.6" ry="2.35" fill="#e6822f"/>
<ellipse cx="593.00" cy="130.96" rx="2.6" ry="2.35" fill="#e6822f"/>
<ellipse cx="608.08" cy="130.10" rx="2.6" ry="2.35" fill="#e6822f"/>
<ellipse cx="623.17" cy="130.29" rx="2.6" ry="2.35" fill="#e6822f"/>
<ellipse cx="638.25" cy="130.69" rx="2.6" ry="2.35" fill="#e6822f"/>
<ellipse cx="653.33" cy="130.29" rx="2.6" ry="2.35" fill="#e6822f"/>
<ellipse cx="668.42" cy="130.36" rx="2.6" ry="2.35" fill="#e6822f"/></g>
<g><path d="M44.60 179.00H231.70V312.00H44.60Z" fill="none" stroke="#404040" stroke-width="1.0"/>
<path d="M42.00 312.00H44.60M42.00 297.22H44.60M42.00 282.44H44.60M42.00 267.67H44.60M42.00 252.89H44.60M42.00 238.11H44.60M42.00 223.33H44.60M42.00 208.56H44.60M42.00 193.78H44.60M42.00 179.00H44.60M43.10 304.61H44.60M43.10 289.83H44.60M43.10 275.06H44.60M43.10 260.28H44.60M43.10 245.50H44.60M43.10 230.72H44.60M43.10 215.94H44.60M43.10 201.17H44.60M43.10 186.39H44.60M60.19 312.00V314.60M91.38 312.00V314.60M122.56 312.00V314.60M153.74 312.00V314.60M184.92 312.00V314.60M216.11 312.00V314.60M75.78 312.00V313.50M106.97 312.00V313.50M138.15 312.00V313.50M169.33 312.00V313.50M200.52 312.00V313.50" stroke="#404040" stroke-width="1.0" fill="none"/>
<text x="39.00" y="315.10" text-anchor="end" class="tl2">0</text>
<text x="39.00" y="300.32" text-anchor="end" class="tl2">1</text>
<text x="39.00" y="285.54" text-anchor="end" class="tl2">2</text>
<text x="39.00" y="270.77" text-anchor="end" class="tl2">3</text>
<text x="39.00" y="255.99" text-anchor="end" class="tl2">4</text>
<text x="39.00" y="241.21" text-anchor="end" class="tl2">5</text>
<text x="39.00" y="226.43" text-anchor="end" class="tl2">6</text>
<text x="39.00" y="211.66" text-anchor="end" class="tl2">7</text>
<text x="39.00" y="196.88" text-anchor="end" class="tl2">8</text>
<text x="39.00" y="182.10" text-anchor="end" class="tl2">9</text>
<text x="60.19" y="323.20" text-anchor="middle" class="tl2">0</text>
<text x="91.38" y="323.20" text-anchor="middle" class="tl2">2</text>
<text x="122.56" y="323.20" text-anchor="middle" class="tl2">4</text>
<text x="153.74" y="323.20" text-anchor="middle" class="tl2">6</text>
<text x="184.92" y="323.20" text-anchor="middle" class="tl2">8</text>
<text x="216.11" y="323.20" text-anchor="middle" class="tl2">10</text>
<text x="138.15" y="339.50" text-anchor="middle" class="at3">Number of Remove</text>
<text transform="translate(30.00 244.70) rotate(-90)" text-anchor="middle" class="yl">MSE</text>
<path d="M54.60 190.50h4M62.40 190.50h4.5M71.90 190.50h4" stroke="#f72a32" stroke-width="1.5"/>
<rect x="63.90" y="188.60" width="3.8" height="3.8" fill="#f72a32"/>
<path d="M54.60 201.40h4M62.40 201.40h4.5M71.90 201.40h4" stroke="#e6822f" stroke-width="1.5"/>
<ellipse cx="65.80" cy="201.40" rx="2.4" ry="2.2" fill="#e6822f"/>
<text x="79.90" y="193.10" class="lg1">High value</text>
<text x="79.90" y="204.20" class="lg1">Low value</text>
<path d="M60.19 294.48 L60.84 293.86 L61.49 293.25 L62.14 292.63 L62.79 292.01 L63.44 291.40 L64.09 290.77 L64.74 290.15 L65.39 289.52 L66.04 288.89 L66.69 288.25 L67.34 287.60 L67.99 286.95 L68.64 286.30 L69.29 285.63 L69.94 284.96 L70.59 284.28 L71.24 283.59 L71.89 282.90 L72.54 282.19 L73.18 281.47 L73.83 280.74 L74.48 280.00 L75.13 279.25 L75.78 278.48 L76.43 277.70 L77.08 276.91 L77.73 276.11 L78.38 275.29 L79.03 274.46 L79.68 273.62 L80.33 272.76 L80.98 271.89 L81.63 271.00 L82.28 270.11 L82.93 269.19 L83.58 268.27 L84.23 267.33 L84.88 266.38 L85.53 265.41 L86.18 264.44 L86.83 263.44 L87.48 262.44 L88.13 261.42 L88.78 260.38 L89.43 259.34 L90.08 258.28 L90.73 257.20 L91.38 256.11 L92.02 255.01 L92.67 253.90 L93.32 252.78 L93.97 251.65 L94.62 250.52 L95.27 249.39 L95.92 248.26 L96.57 247.14 L97.22 246.03 L97.87 244.92 L98.52 243.83 L99.17 242.76 L99.82 241.71 L100.47 240.67 L101.12 239.66 L101.77 238.68 L102.42 237.73 L103.07 236.81 L103.72 235.93 L104.37 235.08 L105.02 234.27 L105.67 233.51 L106.32 232.80 L106.97 232.13 L107.62 231.51 L108.27 230.95 L108.92 230.43 L109.57 229.95 L110.21 229.52 L110.86 229.14 L111.51 228.79 L112.16 228.47 L112.81 228.20 L113.46 227.95 L114.11 227.74 L114.76 227.56 L115.41 227.40 L116.06 227.27 L116.71 227.17 L117.36 227.08 L118.01 227.01 L118.66 226.96 L119.31 226.92 L119.96 226.90 L120.61 226.89 L121.26 226.89 L121.91 226.89 L122.56 226.90 L123.21 226.91 L123.86 226.92 L124.51 226.94 L125.16 226.95 L125.81 226.97 L126.46 226.99 L127.11 227.01 L127.76 227.03 L128.41 227.06 L129.05 227.08 L129.70 227.10 L130.35 227.12 L131.00 227.15 L131.65 227.17 L132.30 227.19 L132.95 227.21 L133.60 227.22 L134.25 227.24 L134.90 227.25 L135.55 227.27 L136.20 227.27 L136.85 227.28 L137.50 227.28 L138.15 227.28 L138.80 227.28 L139.45 227.27 L140.10 227.26 L140.75 227.25 L141.40 227.24 L142.05 227.23 L142.70 227.22 L143.35 227.21 L144.00 227.20 L144.65 227.20 L145.30 227.20 L145.95 227.20 L146.60 227.21 L147.25 227.22 L147.89 227.24 L148.54 227.26 L149.19 227.29 L149.84 227.33 L150.49 227.38 L151.14 227.44 L151.79 227.51 L152.44 227.59 L153.09 227.68 L153.74 227.78 L154.39 227.90 L155.04 228.02 L155.69 228.15 L156.34 228.28 L156.99 228.41 L157.64 228.52 L158.29 228.63 L158.94 228.72 L159.59 228.78 L160.24 228.83 L160.89 228.84 L161.54 228.82 L162.19 228.77 L162.84 228.67 L163.49 228.53 L164.14 228.34 L164.79 228.09 L165.44 227.78 L166.09 227.42 L166.73 226.98 L167.38 226.48 L168.03 225.90 L168.68 225.25 L169.33 224.50 L169.98 223.68 L170.63 222.77 L171.28 221.79 L171.93 220.75 L172.58 219.65 L173.23 218.49 L173.88 217.29 L174.53 216.06 L175.18 214.79 L175.83 213.50 L176.48 212.20 L177.13 210.88 L177.78 209.57 L178.43 208.26 L179.08 206.96 L179.73 205.69 L180.38 204.44 L181.03 203.23 L181.68 202.06 L182.33 200.93 L182.98 199.87 L183.63 198.86 L184.28 197.93 L184.92 197.07 L185.57 196.30 L186.22 195.61 L186.87 194.99 L187.52 194.45 L188.17 193.97 L188.82 193.56 L189.47 193.21 L190.12 192.92 L190.77 192.67 L191.42 192.48 L192.07 192.33 L192.72 192.22 L193.37 192.14 L194.02 192.10 L194.67 192.08 L195.32 192.09 L195.97 192.11 L196.62 192.16 L197.27 192.21 L197.92 192.27 L198.57 192.33 L199.22 192.40 L199.87 192.45 L200.52 192.50 L201.17 192.54 L201.82 192.56 L202.47 192.57 L203.12 192.57 L203.76 192.56 L204.41 192.53 L205.06 192.50 L205.71 192.46 L206.36 192.41 L207.01 192.35 L207.66 192.28 L208.31 192.21 L208.96 192.13 L209.61 192.04 L210.26 191.95 L210.91 191.85 L211.56 191.75 L212.21 191.64 L212.86 191.54 L213.51 191.42 L214.16 191.31 L214.81 191.19 L215.46 191.08 L216.11 190.96" fill="none" stroke="#f72a32" stroke-width="1.5" stroke-dasharray="4.32 2.88" stroke-dashoffset="3.96"/>
<path d="M60.19 294.33 L60.84 294.33 L61.49 294.34 L62.14 294.35 L62.79 294.35 L63.44 294.36 L64.09 294.37 L64.74 294.37 L65.39 294.38 L66.04 294.38 L66.69 294.39 L67.34 294.39 L67.99 294.40 L68.64 294.40 L69.29 294.40 L69.94 294.41 L70.59 294.41 L71.24 294.41 L71.89 294.41 L72.54 294.41 L73.18 294.41 L73.83 294.41 L74.48 294.41 L75.13 294.41 L75.78 294.41 L76.43 294.40 L77.08 294.40 L77.73 294.39 L78.38 294.39 L79.03 294.38 L79.68 294.37 L80.33 294.37 L80.98 294.36 L81.63 294.35 L82.28 294.34 L82.93 294.34 L83.58 294.33 L84.23 294.32 L84.88 294.31 L85.53 294.30 L86.18 294.30 L86.83 294.29 L87.48 294.28 L88.13 294.27 L88.78 294.27 L89.43 294.26 L90.08 294.26 L90.73 294.25 L91.38 294.25 L92.02 294.25 L92.67 294.24 L93.32 294.24 L93.97 294.24 L94.62 294.24 L95.27 294.24 L95.92 294.24 L96.57 294.25 L97.22 294.25 L97.87 294.25 L98.52 294.25 L99.17 294.26 L99.82 294.26 L100.47 294.26 L101.12 294.27 L101.77 294.27 L102.42 294.28 L103.07 294.28 L103.72 294.28 L104.37 294.29 L105.02 294.29 L105.67 294.30 L106.32 294.30 L106.97 294.30 L107.62 294.31 L108.27 294.31 L108.92 294.31 L109.57 294.31 L110.21 294.32 L110.86 294.32 L111.51 294.32 L112.16 294.32 L112.81 294.32 L113.46 294.32 L114.11 294.33 L114.76 294.33 L115.41 294.33 L116.06 294.33 L116.71 294.33 L117.36 294.33 L118.01 294.34 L118.66 294.34 L119.31 294.34 L119.96 294.34 L120.61 294.34 L121.26 294.35 L121.91 294.35 L122.56 294.35 L123.21 294.36 L123.86 294.36 L124.51 294.36 L125.16 294.37 L125.81 294.37 L126.46 294.38 L127.11 294.38 L127.76 294.38 L128.41 294.39 L129.05 294.39 L129.70 294.40 L130.35 294.40 L131.00 294.40 L131.65 294.40 L132.30 294.41 L132.95 294.41 L133.60 294.41 L134.25 294.41 L134.90 294.41 L135.55 294.41 L136.20 294.41 L136.85 294.41 L137.50 294.41 L138.15 294.41 L138.80 294.40 L139.45 294.40 L140.10 294.39 L140.75 294.39 L141.40 294.38 L142.05 294.37 L142.70 294.37 L143.35 294.36 L144.00 294.35 L144.65 294.34 L145.30 294.34 L145.95 294.33 L146.60 294.32 L147.25 294.31 L147.89 294.30 L148.54 294.30 L149.19 294.29 L149.84 294.28 L150.49 294.27 L151.14 294.27 L151.79 294.26 L152.44 294.26 L153.09 294.25 L153.74 294.25 L154.39 294.25 L155.04 294.24 L155.69 294.24 L156.34 294.24 L156.99 294.24 L157.64 294.24 L158.29 294.24 L158.94 294.25 L159.59 294.25 L160.24 294.25 L160.89 294.25 L161.54 294.26 L162.19 294.26 L162.84 294.26 L163.49 294.26 L164.14 294.27 L164.79 294.27 L165.44 294.27 L166.09 294.27 L166.73 294.28 L167.38 294.28 L168.03 294.28 L168.68 294.28 L169.33 294.28 L169.98 294.28 L170.63 294.28 L171.28 294.28 L171.93 294.28 L172.58 294.27 L173.23 294.27 L173.88 294.27 L174.53 294.27 L175.18 294.26 L175.83 294.26 L176.48 294.26 L177.13 294.25 L177.78 294.25 L178.43 294.25 L179.08 294.24 L179.73 294.24 L180.38 294.24 L181.03 294.23 L181.68 294.23 L182.33 294.23 L182.98 294.23 L183.63 294.23 L184.28 294.23 L184.92 294.23 L185.57 294.23 L186.22 294.23 L186.87 294.23 L187.52 294.23 L188.17 294.23 L188.82 294.23 L189.47 294.24 L190.12 294.24 L190.77 294.24 L191.42 294.25 L192.07 294.25 L192.72 294.26 L193.37 294.26 L194.02 294.26 L194.67 294.27 L195.32 294.27 L195.97 294.28 L196.62 294.28 L197.27 294.29 L197.92 294.29 L198.57 294.29 L199.22 294.30 L199.87 294.30 L200.52 294.30 L201.17 294.31 L201.82 294.31 L202.47 294.31 L203.12 294.32 L203.76 294.32 L204.41 294.32 L205.06 294.32 L205.71 294.32 L206.36 294.32 L207.01 294.32 L207.66 294.33 L208.31 294.33 L208.96 294.33 L209.61 294.33 L210.26 294.33 L210.91 294.33 L211.56 294.33 L212.21 294.33 L212.86 294.33 L213.51 294.33 L214.16 294.33 L214.81 294.33 L215.46 294.33 L216.11 294.33" fill="none" stroke="#e6822f" stroke-width="1.5" stroke-dasharray="4.32 2.88" stroke-dashoffset="3.96"/>
<rect x="57.89" y="292.58" width="4.6" height="3.8" fill="#f72a32"/>
<rect x="73.48" y="277.66" width="4.6" height="3.8" fill="#f72a32"/>
<rect x="89.08" y="255.36" width="4.6" height="3.8" fill="#f72a32"/>
<rect x="104.67" y="225.98" width="4.6" height="3.8" fill="#f72a32"/>
<rect x="120.26" y="224.80" width="4.6" height="3.8" fill="#f72a32"/>
<rect x="135.85" y="225.68" width="4.6" height="3.8" fill="#f72a32"/>
<rect x="151.44" y="224.80" width="4.6" height="3.8" fill="#f72a32"/>
<rect x="167.03" y="229.82" width="4.6" height="3.8" fill="#f72a32"/>
<rect x="182.62" y="188.17" width="4.6" height="3.8" fill="#f72a32"/>
<rect x="198.22" y="191.72" width="4.6" height="3.8" fill="#f72a32"/>
<rect x="213.81" y="189.06" width="4.6" height="3.8" fill="#f72a32"/>
<ellipse cx="60.19" cy="294.33" rx="2.6" ry="2.35" fill="#e6822f"/>
<ellipse cx="75.78" cy="294.48" rx="2.6" ry="2.35" fill="#e6822f"/>
<ellipse cx="91.38" cy="294.18" rx="2.6" ry="2.35" fill="#e6822f"/>
<ellipse cx="106.97" cy="294.33" rx="2.6" ry="2.35" fill="#e6822f"/>
<ellipse cx="122.56" cy="294.33" rx="2.6" ry="2.35" fill="#e6822f"/>
<ellipse cx="138.15" cy="294.48" rx="2.6" ry="2.35" fill="#e6822f"/>
<ellipse cx="153.74" cy="294.18" rx="2.6" ry="2.35" fill="#e6822f"/>
<ellipse cx="169.33" cy="294.33" rx="2.6" ry="2.35" fill="#e6822f"/>
<ellipse cx="184.92" cy="294.18" rx="2.6" ry="2.35" fill="#e6822f"/>
<ellipse cx="200.52" cy="294.33" rx="2.6" ry="2.35" fill="#e6822f"/>
<ellipse cx="216.11" cy="294.33" rx="2.6" ry="2.35" fill="#e6822f"/></g>
<g><path d="M276.50 179.00H457.50V312.00H276.50Z" fill="none" stroke="#404040" stroke-width="1.0"/>
<path d="M273.90 305.35H276.50M273.90 292.05H276.50M273.90 278.75H276.50M273.90 265.45H276.50M273.90 252.15H276.50M273.90 238.85H276.50M273.90 225.55H276.50M273.90 212.25H276.50M273.90 198.95H276.50M273.90 185.65H276.50M275.00 312.00H276.50M275.00 298.70H276.50M275.00 285.40H276.50M275.00 272.10H276.50M275.00 258.80H276.50M275.00 245.50H276.50M275.00 232.20H276.50M275.00 218.90H276.50M275.00 205.60H276.50M275.00 192.30H276.50M275.00 179.00H276.50M291.58 312.00V314.60M321.75 312.00V314.60M351.92 312.00V314.60M382.08 312.00V314.60M412.25 312.00V314.60M442.42 312.00V314.60M306.67 312.00V313.50M336.83 312.00V313.50M367.00 312.00V313.50M397.17 312.00V313.50M427.33 312.00V313.50" stroke="#404040" stroke-width="1.0" fill="none"/>
<text x="270.90" y="308.45" text-anchor="end" class="tl2">0.6</text>
<text x="270.90" y="295.15" text-anchor="end" class="tl2">0.8</text>
<text x="270.90" y="281.85" text-anchor="end" class="tl2">1.0</text>
<text x="270.90" y="268.55" text-anchor="end" class="tl2">1.2</text>
<text x="270.90" y="255.25" text-anchor="end" class="tl2">1.4</text>
<text x="270.90" y="241.95" text-anchor="end" class="tl2">1.6</text>
<text x="270.90" y="228.65" text-anchor="end" class="tl2">1.8</text>
<text x="270.90" y="215.35" text-anchor="end" class="tl2">2.0</text>
<text x="270.90" y="202.05" text-anchor="end" class="tl2">2.2</text>
<text x="270.90" y="188.75" text-anchor="end" class="tl2">2.4</text>
<text x="291.58" y="323.20" text-anchor="middle" class="tl2">0</text>
<text x="321.75" y="323.20" text-anchor="middle" class="tl2">2</text>
<text x="351.92" y="323.20" text-anchor="middle" class="tl2">4</text>
<text x="382.08" y="323.20" text-anchor="middle" class="tl2">6</text>
<text x="412.25" y="323.20" text-anchor="middle" class="tl2">8</text>
<text x="442.42" y="323.20" text-anchor="middle" class="tl2">10</text>
<text x="367.00" y="339.50" text-anchor="middle" class="at2">Number of Remove</text>
<text transform="translate(254.20 244.70) rotate(-90)" text-anchor="middle" class="yl">MAE</text>
<path d="M286.50 190.50h4M294.30 190.50h4.5M303.80 190.50h4" stroke="#f72a32" stroke-width="1.5"/>
<rect x="295.80" y="188.60" width="3.8" height="3.8" fill="#f72a32"/>
<path d="M286.50 201.40h4M294.30 201.40h4.5M303.80 201.40h4" stroke="#e6822f" stroke-width="1.5"/>
<ellipse cx="297.70" cy="201.40" rx="2.4" ry="2.2" fill="#e6822f"/>
<text x="311.20" y="193.10" class="lg2">High value</text>
<text x="311.20" y="204.20" class="lg2">Low value</text>
<path d="M291.58 304.30 L292.21 303.23 L292.84 302.16 L293.47 301.09 L294.10 300.02 L294.73 298.96 L295.35 297.89 L295.98 296.82 L296.61 295.75 L297.24 294.69 L297.87 293.62 L298.50 292.56 L299.12 291.49 L299.75 290.43 L300.38 289.37 L301.01 288.31 L301.64 287.25 L302.27 286.19 L302.90 285.13 L303.52 284.07 L304.15 283.01 L304.78 281.96 L305.41 280.91 L306.04 279.86 L306.67 278.81 L307.30 277.76 L307.92 276.71 L308.55 275.66 L309.18 274.61 L309.81 273.56 L310.44 272.50 L311.07 271.44 L311.69 270.37 L312.32 269.30 L312.95 268.22 L313.58 267.13 L314.21 266.03 L314.84 264.92 L315.47 263.80 L316.09 262.67 L316.72 261.52 L317.35 260.35 L317.98 259.18 L318.61 257.98 L319.24 256.77 L319.86 255.53 L320.49 254.28 L321.12 253.01 L321.75 251.71 L322.38 250.39 L323.01 249.05 L323.64 247.70 L324.26 246.34 L324.89 244.96 L325.52 243.59 L326.15 242.21 L326.78 240.84 L327.41 239.48 L328.03 238.13 L328.66 236.79 L329.29 235.47 L329.92 234.18 L330.55 232.92 L331.18 231.68 L331.81 230.48 L332.43 229.32 L333.06 228.21 L333.69 227.14 L334.32 226.12 L334.95 225.15 L335.58 224.24 L336.20 223.40 L336.83 222.62 L337.46 221.91 L338.09 221.27 L338.72 220.69 L339.35 220.17 L339.98 219.71 L340.60 219.31 L341.23 218.95 L341.86 218.65 L342.49 218.38 L343.12 218.17 L343.75 217.99 L344.37 217.84 L345.00 217.73 L345.63 217.65 L346.26 217.59 L346.89 217.56 L347.52 217.55 L348.15 217.55 L348.77 217.57 L349.40 217.60 L350.03 217.64 L350.66 217.68 L351.29 217.73 L351.92 217.77 L352.55 217.81 L353.17 217.84 L353.80 217.87 L354.43 217.90 L355.06 217.92 L355.69 217.94 L356.32 217.95 L356.94 217.96 L357.57 217.97 L358.20 217.97 L358.83 217.97 L359.46 217.97 L360.09 217.96 L360.72 217.95 L361.34 217.93 L361.97 217.92 L362.60 217.90 L363.23 217.88 L363.86 217.85 L364.49 217.83 L365.11 217.80 L365.74 217.77 L366.37 217.74 L367.00 217.70 L367.63 217.67 L368.26 217.63 L368.89 217.59 L369.51 217.55 L370.14 217.52 L370.77 217.48 L371.40 217.44 L372.03 217.41 L372.66 217.38 L373.28 217.35 L373.91 217.32 L374.54 217.30 L375.17 217.28 L375.80 217.27 L376.43 217.26 L377.06 217.26 L377.68 217.26 L378.31 217.27 L378.94 217.29 L379.57 217.31 L380.20 217.35 L380.83 217.39 L381.45 217.44 L382.08 217.50 L382.71 217.57 L383.34 217.64 L383.97 217.72 L384.60 217.80 L385.23 217.88 L385.85 217.95 L386.48 218.01 L387.11 218.05 L387.74 218.08 L388.37 218.09 L389.00 218.07 L389.63 218.02 L390.25 217.95 L390.88 217.84 L391.51 217.69 L392.14 217.51 L392.77 217.27 L393.40 216.99 L394.02 216.66 L394.65 216.28 L395.28 215.83 L395.91 215.33 L396.54 214.76 L397.17 214.12 L397.80 213.41 L398.42 212.64 L399.05 211.80 L399.68 210.92 L400.31 209.98 L400.94 209.01 L401.57 207.99 L402.19 206.95 L402.82 205.89 L403.45 204.80 L404.08 203.71 L404.71 202.61 L405.34 201.51 L405.97 200.41 L406.59 199.33 L407.22 198.26 L407.85 197.22 L408.48 196.21 L409.11 195.24 L409.74 194.30 L410.36 193.42 L410.99 192.59 L411.62 191.82 L412.25 191.11 L412.88 190.48 L413.51 189.91 L414.14 189.41 L414.76 188.97 L415.39 188.58 L416.02 188.25 L416.65 187.97 L417.28 187.74 L417.91 187.55 L418.53 187.40 L419.16 187.28 L419.79 187.20 L420.42 187.14 L421.05 187.11 L421.68 187.10 L422.31 187.11 L422.93 187.13 L423.56 187.16 L424.19 187.20 L424.82 187.24 L425.45 187.29 L426.08 187.32 L426.70 187.35 L427.33 187.37 L427.96 187.38 L428.59 187.37 L429.22 187.34 L429.85 187.31 L430.48 187.26 L431.10 187.20 L431.73 187.12 L432.36 187.04 L432.99 186.95 L433.62 186.84 L434.25 186.73 L434.88 186.61 L435.50 186.49 L436.13 186.35 L436.76 186.21 L437.39 186.07 L438.02 185.92 L438.65 185.76 L439.27 185.60 L439.90 185.44 L440.53 185.28 L441.16 185.11 L441.79 184.94 L442.42 184.78" fill="none" stroke="#f72a32" stroke-width="1.5" stroke-dasharray="4.18 2.78" stroke-dashoffset="3.83"/>
<path d="M291.58 304.30 L292.21 304.31 L292.84 304.31 L293.47 304.32 L294.10 304.33 L294.73 304.34 L295.35 304.35 L295.98 304.36 L296.61 304.36 L297.24 304.37 L297.87 304.38 L298.50 304.39 L299.12 304.39 L299.75 304.40 L300.38 304.41 L301.01 304.41 L301.64 304.42 L302.27 304.42 L302.90 304.43 L303.52 304.43 L304.15 304.44 L304.78 304.44 L305.41 304.44 L306.04 304.44 L306.67 304.45 L307.30 304.45 L307.92 304.45 L308.55 304.45 L309.18 304.45 L309.81 304.44 L310.44 304.44 L311.07 304.44 L311.69 304.44 L312.32 304.44 L312.95 304.43 L313.58 304.43 L314.21 304.43 L314.84 304.43 L315.47 304.42 L316.09 304.42 L316.72 304.42 L317.35 304.42 L317.98 304.41 L318.61 304.41 L319.24 304.41 L319.86 304.41 L320.49 304.41 L321.12 304.41 L321.75 304.41 L322.38 304.41 L323.01 304.41 L323.64 304.41 L324.26 304.41 L324.89 304.41 L325.52 304.41 L326.15 304.42 L326.78 304.42 L327.41 304.42 L328.03 304.42 L328.66 304.43 L329.29 304.43 L329.92 304.43 L330.55 304.44 L331.18 304.44 L331.81 304.44 L332.43 304.44 L333.06 304.45 L333.69 304.45 L334.32 304.45 L334.95 304.45 L335.58 304.45 L336.20 304.45 L336.83 304.45 L337.46 304.45 L338.09 304.45 L338.72 304.45 L339.35 304.45 L339.98 304.45 L340.60 304.44 L341.23 304.44 L341.86 304.44 L342.49 304.44 L343.12 304.44 L343.75 304.43 L344.37 304.43 L345.00 304.43 L345.63 304.43 L346.26 304.43 L346.89 304.43 L347.52 304.43 L348.15 304.43 L348.77 304.43 L349.40 304.44 L350.03 304.44 L350.66 304.45 L351.29 304.45 L351.92 304.46 L352.55 304.47 L353.17 304.47 L353.80 304.48 L354.43 304.49 L355.06 304.51 L355.69 304.52 L356.32 304.53 L356.94 304.54 L357.57 304.55 L358.20 304.57 L358.83 304.58 L359.46 304.59 L360.09 304.60 L360.72 304.62 L361.34 304.63 L361.97 304.64 L362.60 304.65 L363.23 304.66 L363.86 304.66 L364.49 304.67 L365.11 304.68 L365.74 304.68 L366.37 304.68 L367.00 304.68 L367.63 304.68 L368.26 304.68 L368.89 304.67 L369.51 304.67 L370.14 304.66 L370.77 304.66 L371.40 304.65 L372.03 304.64 L372.66 304.63 L373.28 304.62 L373.91 304.61 L374.54 304.59 L375.17 304.58 L375.80 304.57 L376.43 304.56 L377.06 304.55 L377.68 304.54 L378.31 304.53 L378.94 304.52 L379.57 304.52 L380.20 304.51 L380.83 304.51 L381.45 304.50 L382.08 304.50 L382.71 304.50 L383.34 304.50 L383.97 304.50 L384.60 304.50 L385.23 304.51 L385.85 304.51 L386.48 304.52 L387.11 304.53 L387.74 304.54 L388.37 304.55 L389.00 304.56 L389.63 304.57 L390.25 304.58 L390.88 304.59 L391.51 304.60 L392.14 304.61 L392.77 304.62 L393.40 304.63 L394.02 304.64 L394.65 304.65 L395.28 304.66 L395.91 304.66 L396.54 304.67 L397.17 304.68 L397.80 304.68 L398.42 304.69 L399.05 304.69 L399.68 304.69 L400.31 304.70 L400.94 304.70 L401.57 304.70 L402.19 304.70 L402.82 304.70 L403.45 304.70 L404.08 304.69 L404.71 304.69 L405.34 304.69 L405.97 304.69 L406.59 304.68 L407.22 304.68 L407.85 304.68 L408.48 304.68 L409.11 304.67 L409.74 304.67 L410.36 304.67 L410.99 304.67 L411.62 304.66 L412.25 304.66 L412.88 304.66 L413.51 304.66 L414.14 304.66 L414.76 304.66 L415.39 304.66 L416.02 304.66 L416.65 304.66 L417.28 304.66 L417.91 304.66 L418.53 304.66 L419.16 304.66 L419.79 304.66 L420.42 304.66 L421.05 304.66 L421.68 304.66 L422.31 304.66 L422.93 304.66 L423.56 304.66 L424.19 304.66 L424.82 304.66 L425.45 304.66 L426.08 304.66 L426.70 304.66 L427.33 304.65 L427.96 304.65 L428.59 304.65 L429.22 304.64 L429.85 304.64 L430.48 304.64 L431.10 304.63 L431.73 304.62 L432.36 304.62 L432.99 304.61 L433.62 304.61 L434.25 304.60 L434.88 304.59 L435.50 304.59 L436.13 304.58 L436.76 304.57 L437.39 304.56 L438.02 304.55 L438.65 304.55 L439.27 304.54 L439.90 304.53 L440.53 304.52 L441.16 304.51 L441.79 304.50 L442.42 304.50" fill="none" stroke="#e6822f" stroke-width="1.5" stroke-dasharray="4.18 2.78" stroke-dashoffset="3.83"/>
<rect x="289.28" y="302.40" width="4.6" height="3.8" fill="#f72a32"/>
<rect x="304.37" y="276.77" width="4.6" height="3.8" fill="#f72a32"/>
<rect x="319.45" y="251.73" width="4.6" height="3.8" fill="#f72a32"/>
<rect x="334.53" y="214.95" width="4.6" height="3.8" fill="#f72a32"/>
<rect x="349.62" y="216.28" width="4.6" height="3.8" fill="#f72a32"/>
<rect x="364.70" y="215.94" width="4.6" height="3.8" fill="#f72a32"/>
<rect x="379.78" y="214.75" width="4.6" height="3.8" fill="#f72a32"/>
<rect x="394.87" y="218.14" width="4.6" height="3.8" fill="#f72a32"/>
<rect x="409.95" y="183.28" width="4.6" height="3.8" fill="#f72a32"/>
<rect x="425.03" y="186.73" width="4.6" height="3.8" fill="#f72a32"/>
<rect x="440.12" y="182.88" width="4.6" height="3.8" fill="#f72a32"/>
<ellipse cx="291.58" cy="304.30" rx="2.6" ry="2.35" fill="#e6822f"/>
<ellipse cx="306.67" cy="304.50" rx="2.6" ry="2.35" fill="#e6822f"/>
<ellipse cx="321.75" cy="304.36" rx="2.6" ry="2.35" fill="#e6822f"/>
<ellipse cx="336.83" cy="304.50" rx="2.6" ry="2.35" fill="#e6822f"/>
<ellipse cx="351.92" cy="304.36" rx="2.6" ry="2.35" fill="#e6822f"/>
<ellipse cx="367.00" cy="304.83" rx="2.6" ry="2.35" fill="#e6822f"/>
<ellipse cx="382.08" cy="304.36" rx="2.6" ry="2.35" fill="#e6822f"/>
<ellipse cx="397.17" cy="304.76" rx="2.6" ry="2.35" fill="#e6822f"/>
<ellipse cx="412.25" cy="304.63" rx="2.6" ry="2.35" fill="#e6822f"/>
<ellipse cx="427.33" cy="304.70" rx="2.6" ry="2.35" fill="#e6822f"/>
<ellipse cx="442.42" cy="304.50" rx="2.6" ry="2.35" fill="#e6822f"/></g>
<g><path d="M502.60 179.00H683.50V312.00H502.60Z" fill="none" stroke="#404040" stroke-width="1.0"/>
<path d="M500.00 312.00H502.60M500.00 298.70H502.60M500.00 285.40H502.60M500.00 272.10H502.60M500.00 258.80H502.60M500.00 245.50H502.60M500.00 232.20H502.60M500.00 218.90H502.60M500.00 205.60H502.60M500.00 192.30H502.60M500.00 179.00H502.60M501.10 305.35H502.60M501.10 292.05H502.60M501.10 278.75H502.60M501.10 265.45H502.60M501.10 252.15H502.60M501.10 238.85H502.60M501.10 225.55H502.60M501.10 212.25H502.60M501.10 198.95H502.60M501.10 185.65H502.60M517.68 312.00V314.60M547.83 312.00V314.60M577.98 312.00V314.60M608.12 312.00V314.60M638.27 312.00V314.60M668.42 312.00V314.60M532.75 312.00V313.50M562.90 312.00V313.50M593.05 312.00V313.50M623.20 312.00V313.50M653.35 312.00V313.50" stroke="#404040" stroke-width="1.0" fill="none"/>
<text x="497.00" y="315.10" text-anchor="end" class="tl2">1.0</text>
<text x="497.00" y="301.80" text-anchor="end" class="tl2">1.2</text>
<text x="497.00" y="288.50" text-anchor="end" class="tl2">1.4</text>
<text x="497.00" y="275.20" text-anchor="end" class="tl2">1.6</text>
<text x="497.00" y="261.90" text-anchor="end" class="tl2">1.8</text>
<text x="497.00" y="248.60" text-anchor="end" class="tl2">2.0</text>
<text x="497.00" y="235.30" text-anchor="end" class="tl2">2.2</text>
<text x="497.00" y="222.00" text-anchor="end" class="tl2">2.4</text>
<text x="497.00" y="208.70" text-anchor="end" class="tl2">2.6</text>
<text x="497.00" y="195.40" text-anchor="end" class="tl2">2.8</text>
<text x="497.00" y="182.10" text-anchor="end" class="tl2">3.0</text>
<text x="517.68" y="323.20" text-anchor="middle" class="tl2">0</text>
<text x="547.83" y="323.20" text-anchor="middle" class="tl2">2</text>
<text x="577.98" y="323.20" text-anchor="middle" class="tl2">4</text>
<text x="608.12" y="323.20" text-anchor="middle" class="tl2">6</text>
<text x="638.27" y="323.20" text-anchor="middle" class="tl2">8</text>
<text x="668.42" y="323.20" text-anchor="middle" class="tl2">10</text>
<text x="593.05" y="339.50" text-anchor="middle" class="at2">Number of Remove</text>
<text transform="translate(480.00 244.70) rotate(-90)" text-anchor="middle" class="yl">RMSE</text>
<path d="M512.60 190.50h4M520.40 190.50h4.5M529.90 190.50h4" stroke="#f72a32" stroke-width="1.5"/>
<rect x="521.90" y="188.60" width="3.8" height="3.8" fill="#f72a32"/>
<path d="M512.60 201.40h4M520.40 201.40h4.5M529.90 201.40h4" stroke="#e6822f" stroke-width="1.5"/>
<ellipse cx="523.80" cy="201.40" rx="2.4" ry="2.2" fill="#e6822f"/>
<text x="537.30" y="193.10" class="lg2">High value</text>
<text x="537.30" y="204.20" class="lg2">Low value</text>
<path d="M517.67 305.63 L518.30 304.57 L518.93 303.50 L519.56 302.44 L520.19 301.37 L520.82 300.30 L521.44 299.23 L522.07 298.16 L522.70 297.09 L523.33 296.01 L523.96 294.93 L524.58 293.85 L525.21 292.77 L525.84 291.68 L526.47 290.59 L527.10 289.50 L527.73 288.40 L528.35 287.30 L528.98 286.19 L529.61 285.07 L530.24 283.96 L530.87 282.83 L531.49 281.70 L532.12 280.57 L532.75 279.42 L533.38 278.28 L534.01 277.12 L534.63 275.96 L535.26 274.79 L535.89 273.61 L536.52 272.43 L537.15 271.25 L537.77 270.05 L538.40 268.86 L539.03 267.65 L539.66 266.44 L540.29 265.23 L540.92 264.01 L541.54 262.78 L542.17 261.55 L542.80 260.32 L543.43 259.08 L544.06 257.83 L544.68 256.58 L545.31 255.33 L545.94 254.07 L546.57 252.81 L547.20 251.54 L547.83 250.27 L548.45 248.99 L549.08 247.72 L549.71 246.44 L550.34 245.17 L550.97 243.91 L551.59 242.65 L552.22 241.40 L552.85 240.17 L553.48 238.95 L554.11 237.74 L554.73 236.56 L555.36 235.40 L555.99 234.27 L556.62 233.16 L557.25 232.08 L557.88 231.04 L558.50 230.02 L559.13 229.05 L559.76 228.11 L560.39 227.22 L561.02 226.37 L561.64 225.56 L562.27 224.81 L562.90 224.10 L563.53 223.45 L564.16 222.85 L564.78 222.29 L565.41 221.79 L566.04 221.33 L566.67 220.91 L567.30 220.54 L567.93 220.20 L568.55 219.90 L569.18 219.63 L569.81 219.40 L570.44 219.20 L571.07 219.02 L571.69 218.87 L572.32 218.75 L572.95 218.64 L573.58 218.56 L574.21 218.50 L574.83 218.45 L575.46 218.41 L576.09 218.39 L576.72 218.38 L577.35 218.37 L577.98 218.37 L578.60 218.37 L579.23 218.38 L579.86 218.38 L580.49 218.40 L581.12 218.41 L581.74 218.42 L582.37 218.44 L583.00 218.46 L583.63 218.48 L584.26 218.50 L584.88 218.52 L585.51 218.54 L586.14 218.56 L586.77 218.58 L587.40 218.60 L588.02 218.62 L588.65 218.64 L589.28 218.66 L589.91 218.68 L590.54 218.70 L591.17 218.71 L591.79 218.72 L592.42 218.73 L593.05 218.74 L593.68 218.74 L594.31 218.75 L594.93 218.75 L595.56 218.75 L596.19 218.74 L596.82 218.74 L597.45 218.74 L598.08 218.74 L598.70 218.74 L599.33 218.75 L599.96 218.75 L600.59 218.76 L601.22 218.78 L601.84 218.80 L602.47 218.82 L603.10 218.85 L603.73 218.89 L604.36 218.93 L604.98 218.98 L605.61 219.03 L606.24 219.10 L606.87 219.18 L607.50 219.26 L608.12 219.36 L608.75 219.46 L609.38 219.57 L610.01 219.69 L610.64 219.80 L611.27 219.92 L611.89 220.02 L612.52 220.12 L613.15 220.20 L613.78 220.26 L614.41 220.30 L615.03 220.32 L615.66 220.31 L616.29 220.27 L616.92 220.19 L617.55 220.08 L618.18 219.92 L618.80 219.71 L619.43 219.46 L620.06 219.15 L620.69 218.79 L621.32 218.37 L621.94 217.88 L622.57 217.33 L623.20 216.71 L623.83 216.01 L624.46 215.25 L625.08 214.42 L625.71 213.54 L626.34 212.61 L626.97 211.64 L627.60 210.62 L628.23 209.58 L628.85 208.51 L629.48 207.42 L630.11 206.32 L630.74 205.21 L631.37 204.09 L631.99 202.99 L632.62 201.89 L633.25 200.81 L633.88 199.75 L634.51 198.72 L635.13 197.73 L635.76 196.77 L636.39 195.86 L637.02 195.01 L637.65 194.21 L638.27 193.48 L638.90 192.82 L639.53 192.23 L640.16 191.70 L640.79 191.23 L641.42 190.82 L642.04 190.46 L642.67 190.15 L643.30 189.89 L643.93 189.68 L644.56 189.50 L645.18 189.36 L645.81 189.26 L646.44 189.18 L647.07 189.13 L647.70 189.11 L648.32 189.10 L648.95 189.12 L649.58 189.14 L650.21 189.18 L650.84 189.22 L651.47 189.26 L652.09 189.30 L652.72 189.34 L653.35 189.38 L653.98 189.40 L654.61 189.41 L655.23 189.42 L655.86 189.41 L656.49 189.39 L657.12 189.37 L657.75 189.34 L658.38 189.30 L659.00 189.25 L659.63 189.20 L660.26 189.14 L660.89 189.08 L661.52 189.01 L662.14 188.93 L662.77 188.85 L663.40 188.77 L664.03 188.68 L664.66 188.60 L665.28 188.50 L665.91 188.41 L666.54 188.31 L667.17 188.21 L667.80 188.12 L668.42 188.02" fill="none" stroke="#f72a32" stroke-width="1.5" stroke-dasharray="4.17 2.78" stroke-dashoffset="3.83"/>
<path d="M517.67 305.63 L518.30 305.65 L518.93 305.66 L519.56 305.68 L520.19 305.69 L520.82 305.70 L521.44 305.72 L522.07 305.73 L522.70 305.74 L523.33 305.76 L523.96 305.77 L524.58 305.78 L525.21 305.79 L525.84 305.80 L526.47 305.81 L527.10 305.82 L527.73 305.83 L528.35 305.83 L528.98 305.84 L529.61 305.84 L530.24 305.84 L530.87 305.85 L531.49 305.85 L532.12 305.84 L532.75 305.84 L533.38 305.84 L534.01 305.83 L534.63 305.83 L535.26 305.82 L535.89 305.81 L536.52 305.80 L537.15 305.79 L537.77 305.78 L538.40 305.77 L539.03 305.76 L539.66 305.74 L540.29 305.73 L540.92 305.72 L541.54 305.71 L542.17 305.70 L542.80 305.68 L543.43 305.67 L544.06 305.66 L544.68 305.65 L545.31 305.64 L545.94 305.63 L546.57 305.63 L547.20 305.62 L547.83 305.61 L548.45 305.61 L549.08 305.61 L549.71 305.61 L550.34 305.61 L550.97 305.61 L551.59 305.61 L552.22 305.61 L552.85 305.62 L553.48 305.62 L554.11 305.63 L554.73 305.63 L555.36 305.64 L555.99 305.64 L556.62 305.65 L557.25 305.65 L557.88 305.66 L558.50 305.67 L559.13 305.67 L559.76 305.68 L560.39 305.68 L561.02 305.69 L561.64 305.69 L562.27 305.70 L562.90 305.70 L563.53 305.70 L564.16 305.70 L564.78 305.71 L565.41 305.71 L566.04 305.71 L566.67 305.71 L567.30 305.71 L567.93 305.70 L568.55 305.70 L569.18 305.70 L569.81 305.70 L570.44 305.70 L571.07 305.70 L571.69 305.70 L572.32 305.70 L572.95 305.70 L573.58 305.70 L574.21 305.70 L574.83 305.71 L575.46 305.71 L576.09 305.71 L576.72 305.72 L577.35 305.72 L577.98 305.73 L578.60 305.74 L579.23 305.75 L579.86 305.75 L580.49 305.77 L581.12 305.78 L581.74 305.79 L582.37 305.80 L583.00 305.81 L583.63 305.82 L584.26 305.84 L584.88 305.85 L585.51 305.86 L586.14 305.87 L586.77 305.88 L587.40 305.89 L588.02 305.90 L588.65 305.91 L589.28 305.92 L589.91 305.92 L590.54 305.93 L591.17 305.93 L591.79 305.93 L592.42 305.93 L593.05 305.93 L593.68 305.93 L594.31 305.92 L594.93 305.91 L595.56 305.91 L596.19 305.89 L596.82 305.88 L597.45 305.87 L598.08 305.86 L598.70 305.84 L599.33 305.83 L599.96 305.81 L600.59 305.80 L601.22 305.78 L601.84 305.77 L602.47 305.75 L603.10 305.74 L603.73 305.72 L604.36 305.71 L604.98 305.70 L605.61 305.69 L606.24 305.68 L606.87 305.67 L607.50 305.66 L608.12 305.66 L608.75 305.65 L609.38 305.65 L610.01 305.65 L610.64 305.65 L611.27 305.66 L611.89 305.66 L612.52 305.67 L613.15 305.67 L613.78 305.68 L614.41 305.69 L615.03 305.69 L615.66 305.70 L616.29 305.71 L616.92 305.72 L617.55 305.73 L618.18 305.73 L618.80 305.74 L619.43 305.75 L620.06 305.76 L620.69 305.76 L621.32 305.77 L621.94 305.77 L622.57 305.77 L623.20 305.77 L623.83 305.77 L624.46 305.77 L625.08 305.77 L625.71 305.76 L626.34 305.76 L626.97 305.75 L627.60 305.74 L628.23 305.73 L628.85 305.73 L629.48 305.72 L630.11 305.71 L630.74 305.70 L631.37 305.69 L631.99 305.68 L632.62 305.66 L633.25 305.65 L633.88 305.64 L634.51 305.63 L635.13 305.62 L635.76 305.61 L636.39 305.60 L637.02 305.60 L637.65 305.59 L638.27 305.58 L638.90 305.58 L639.53 305.57 L640.16 305.57 L640.79 305.57 L641.42 305.56 L642.04 305.56 L642.67 305.56 L643.30 305.56 L643.93 305.57 L644.56 305.57 L645.18 305.57 L645.81 305.57 L646.44 305.58 L647.07 305.58 L647.70 305.59 L648.32 305.59 L648.95 305.60 L649.58 305.60 L650.21 305.61 L650.84 305.62 L651.47 305.63 L652.09 305.63 L652.72 305.64 L653.35 305.65 L653.98 305.66 L654.61 305.67 L655.23 305.68 L655.86 305.69 L656.49 305.70 L657.12 305.71 L657.75 305.72 L658.38 305.73 L659.00 305.74 L659.63 305.75 L660.26 305.76 L660.89 305.77 L661.52 305.78 L662.14 305.79 L662.77 305.80 L663.40 305.81 L664.03 305.82 L664.66 305.83 L665.28 305.84 L665.91 305.85 L666.54 305.86 L667.17 305.88 L667.80 305.89 L668.42 305.90" fill="none" stroke="#e6822f" stroke-width="1.5" stroke-dasharray="4.17 2.78" stroke-dashoffset="3.83"/>
<rect x="515.38" y="303.73" width="4.6" height="3.8" fill="#f72a32"/>
<rect x="530.45" y="278.07" width="4.6" height="3.8" fill="#f72a32"/>
<rect x="545.53" y="248.70" width="4.6" height="3.8" fill="#f72a32"/>
<rect x="560.60" y="217.81" width="4.6" height="3.8" fill="#f72a32"/>
<rect x="575.68" y="216.22" width="4.6" height="3.8" fill="#f72a32"/>
<rect x="590.75" y="217.08" width="4.6" height="3.8" fill="#f72a32"/>
<rect x="605.83" y="216.55" width="4.6" height="3.8" fill="#f72a32"/>
<rect x="620.90" y="220.92" width="4.6" height="3.8" fill="#f72a32"/>
<rect x="635.98" y="185.72" width="4.6" height="3.8" fill="#f72a32"/>
<rect x="651.05" y="188.37" width="4.6" height="3.8" fill="#f72a32"/>
<rect x="666.12" y="186.12" width="4.6" height="3.8" fill="#f72a32"/>
<ellipse cx="517.68" cy="305.63" rx="2.6" ry="2.35" fill="#e6822f"/>
<ellipse cx="532.75" cy="305.96" rx="2.6" ry="2.35" fill="#e6822f"/>
<ellipse cx="547.83" cy="305.50" rx="2.6" ry="2.35" fill="#e6822f"/>
<ellipse cx="562.90" cy="305.77" rx="2.6" ry="2.35" fill="#e6822f"/>
<ellipse cx="577.98" cy="305.63" rx="2.6" ry="2.35" fill="#e6822f"/>
<ellipse cx="593.05" cy="306.10" rx="2.6" ry="2.35" fill="#e6822f"/>
<ellipse cx="608.12" cy="305.50" rx="2.6" ry="2.35" fill="#e6822f"/>
<ellipse cx="623.20" cy="305.90" rx="2.6" ry="2.35" fill="#e6822f"/>
<ellipse cx="638.27" cy="305.50" rx="2.6" ry="2.35" fill="#e6822f"/>
<ellipse cx="653.35" cy="305.63" rx="2.6" ry="2.35" fill="#e6822f"/>
<ellipse cx="668.42" cy="305.90" rx="2.6" ry="2.35" fill="#e6822f"/></g>
<g><path d="M46.00 353.30H231.70V486.50H46.00Z" fill="none" stroke="#404040" stroke-width="1.0"/>
<path d="M43.40 478.66H46.00M43.40 462.99H46.00M43.40 447.32H46.00M43.40 431.65H46.00M43.40 415.98H46.00M43.40 400.31H46.00M43.40 384.64H46.00M43.40 368.97H46.00M43.40 353.30H46.00M44.50 470.83H46.00M44.50 455.16H46.00M44.50 439.49H46.00M44.50 423.82H46.00M44.50 408.15H46.00M44.50 392.48H46.00M44.50 376.81H46.00M44.50 361.14H46.00M61.48 486.50V489.10M92.42 486.50V489.10M123.38 486.50V489.10M154.32 486.50V489.10M185.28 486.50V489.10M216.22 486.50V489.10M76.95 486.50V488.00M107.90 486.50V488.00M138.85 486.50V488.00M169.80 486.50V488.00M200.75 486.50V488.00" stroke="#404040" stroke-width="1.0" fill="none"/>
<text x="40.40" y="481.76" text-anchor="end" class="tl2">1</text>
<text x="40.40" y="466.09" text-anchor="end" class="tl2">2</text>
<text x="40.40" y="450.42" text-anchor="end" class="tl2">3</text>
<text x="40.40" y="434.75" text-anchor="end" class="tl2">4</text>
<text x="40.40" y="419.08" text-anchor="end" class="tl2">5</text>
<text x="40.40" y="403.41" text-anchor="end" class="tl2">6</text>
<text x="40.40" y="387.74" text-anchor="end" class="tl2">7</text>
<text x="40.40" y="372.07" text-anchor="end" class="tl2">8</text>
<text x="40.40" y="356.40" text-anchor="end" class="tl2">9</text>
<text x="61.48" y="497.70" text-anchor="middle" class="tl2">0</text>
<text x="92.42" y="497.70" text-anchor="middle" class="tl2">2</text>
<text x="123.38" y="497.70" text-anchor="middle" class="tl2">4</text>
<text x="154.32" y="497.70" text-anchor="middle" class="tl2">6</text>
<text x="185.28" y="497.70" text-anchor="middle" class="tl2">8</text>
<text x="216.22" y="497.70" text-anchor="middle" class="tl2">10</text>
<text x="138.85" y="514.00" text-anchor="middle" class="at3">Number of Remove</text>
<text transform="translate(31.40 419.10) rotate(-90)" text-anchor="middle" class="yl">MSE</text>
<path d="M56.00 364.80h4M63.80 364.80h4.5M73.30 364.80h4" stroke="#f72a32" stroke-width="1.5"/>
<rect x="65.30" y="362.90" width="3.8" height="3.8" fill="#f72a32"/>
<path d="M56.00 375.70h4M63.80 375.70h4.5M73.30 375.70h4" stroke="#e6822f" stroke-width="1.5"/>
<ellipse cx="67.20" cy="375.70" rx="2.4" ry="2.2" fill="#e6822f"/>
<text x="81.30" y="367.40" class="lg1">High value</text>
<text x="81.30" y="378.50" class="lg1">Low value</text>
<path d="M61.47 464.86 L62.12 464.57 L62.76 464.28 L63.41 463.98 L64.05 463.68 L64.70 463.38 L65.34 463.06 L65.99 462.73 L66.63 462.40 L67.28 462.05 L67.92 461.68 L68.57 461.30 L69.21 460.90 L69.86 460.48 L70.50 460.04 L71.15 459.58 L71.79 459.09 L72.44 458.58 L73.08 458.03 L73.73 457.46 L74.37 456.86 L75.02 456.22 L75.66 455.55 L76.31 454.85 L76.95 454.10 L77.59 453.32 L78.24 452.50 L78.88 451.65 L79.53 450.76 L80.17 449.85 L80.82 448.91 L81.46 447.95 L82.11 446.97 L82.75 445.97 L83.40 444.95 L84.04 443.92 L84.69 442.88 L85.33 441.84 L85.98 440.79 L86.62 439.74 L87.27 438.69 L87.91 437.64 L88.56 436.60 L89.20 435.57 L89.85 434.56 L90.49 433.55 L91.14 432.57 L91.78 431.60 L92.42 430.66 L93.07 429.74 L93.71 428.85 L94.36 427.98 L95.00 427.14 L95.65 426.32 L96.29 425.53 L96.94 424.76 L97.58 424.02 L98.23 423.31 L98.87 422.61 L99.52 421.95 L100.16 421.31 L100.81 420.70 L101.45 420.11 L102.10 419.54 L102.74 419.00 L103.39 418.49 L104.03 418.00 L104.68 417.54 L105.32 417.10 L105.97 416.69 L106.61 416.30 L107.26 415.94 L107.90 415.60 L108.54 415.29 L109.19 415.00 L109.83 414.74 L110.48 414.49 L111.12 414.27 L111.77 414.06 L112.41 413.88 L113.06 413.71 L113.70 413.55 L114.35 413.41 L114.99 413.29 L115.64 413.17 L116.28 413.07 L116.93 412.97 L117.57 412.89 L118.22 412.81 L118.86 412.74 L119.51 412.67 L120.15 412.60 L120.80 412.54 L121.44 412.48 L122.09 412.42 L122.73 412.36 L123.38 412.29 L124.02 412.22 L124.66 412.15 L125.31 412.08 L125.95 412.00 L126.60 411.92 L127.24 411.84 L127.89 411.76 L128.53 411.68 L129.18 411.60 L129.82 411.52 L130.47 411.44 L131.11 411.37 L131.76 411.29 L132.40 411.22 L133.05 411.15 L133.69 411.08 L134.34 411.02 L134.98 410.96 L135.63 410.91 L136.27 410.86 L136.92 410.82 L137.56 410.78 L138.21 410.75 L138.85 410.73 L139.49 410.72 L140.14 410.71 L140.78 410.71 L141.43 410.72 L142.07 410.73 L142.72 410.75 L143.36 410.78 L144.01 410.82 L144.65 410.86 L145.30 410.90 L145.94 410.96 L146.59 411.02 L147.23 411.08 L147.88 411.15 L148.52 411.23 L149.17 411.31 L149.81 411.39 L150.46 411.48 L151.10 411.58 L151.75 411.68 L152.39 411.78 L153.04 411.89 L153.68 412.00 L154.32 412.12 L154.97 412.24 L155.61 412.36 L156.26 412.49 L156.90 412.62 L157.55 412.75 L158.19 412.88 L158.84 413.02 L159.48 413.16 L160.13 413.29 L160.77 413.43 L161.42 413.58 L162.06 413.72 L162.71 413.86 L163.35 414.00 L164.00 414.15 L164.64 414.29 L165.29 414.43 L165.93 414.57 L166.58 414.71 L167.22 414.85 L167.87 414.99 L168.51 415.12 L169.16 415.25 L169.80 415.38 L170.44 415.51 L171.09 415.63 L171.73 415.74 L172.38 415.83 L173.02 415.90 L173.67 415.95 L174.31 415.97 L174.96 415.95 L175.60 415.90 L176.25 415.81 L176.89 415.67 L177.54 415.48 L178.18 415.23 L178.83 414.93 L179.47 414.56 L180.12 414.12 L180.76 413.61 L181.41 413.03 L182.05 412.36 L182.70 411.61 L183.34 410.77 L183.99 409.83 L184.63 408.80 L185.27 407.66 L185.92 406.42 L186.56 405.08 L187.21 403.66 L187.85 402.15 L188.50 400.58 L189.14 398.94 L189.79 397.26 L190.43 395.53 L191.08 393.78 L191.72 392.00 L192.37 390.21 L193.01 388.42 L193.66 386.64 L194.30 384.87 L194.95 383.13 L195.59 381.43 L196.24 379.77 L196.88 378.17 L197.53 376.63 L198.17 375.16 L198.82 373.78 L199.46 372.49 L200.11 371.31 L200.75 370.23 L201.39 369.28 L202.04 368.44 L202.68 367.72 L203.33 367.10 L203.97 366.58 L204.62 366.16 L205.26 365.83 L205.91 365.58 L206.55 365.42 L207.20 365.33 L207.84 365.32 L208.49 365.37 L209.13 365.48 L209.78 365.64 L210.42 365.86 L211.07 366.12 L211.71 366.43 L212.36 366.76 L213.00 367.13 L213.65 367.53 L214.29 367.94 L214.94 368.37 L215.58 368.81 L216.22 369.26" fill="none" stroke="#f72a32" stroke-width="1.5" stroke-dasharray="4.29 2.86" stroke-dashoffset="3.93"/>
<path d="M61.47 464.86 L62.12 464.88 L62.76 464.89 L63.41 464.90 L64.05 464.92 L64.70 464.93 L65.34 464.94 L65.99 464.96 L66.63 464.97 L67.28 464.98 L67.92 464.99 L68.57 465.00 L69.21 465.02 L69.86 465.03 L70.50 465.04 L71.15 465.05 L71.79 465.06 L72.44 465.06 L73.08 465.07 L73.73 465.08 L74.37 465.09 L75.02 465.09 L75.66 465.10 L76.31 465.10 L76.95 465.11 L77.59 465.11 L78.24 465.11 L78.88 465.11 L79.53 465.11 L80.17 465.11 L80.82 465.11 L81.46 465.11 L82.11 465.11 L82.75 465.11 L83.40 465.10 L84.04 465.10 L84.69 465.09 L85.33 465.09 L85.98 465.08 L86.62 465.08 L87.27 465.07 L87.91 465.07 L88.56 465.06 L89.20 465.05 L89.85 465.05 L90.49 465.04 L91.14 465.03 L91.78 465.03 L92.42 465.02 L93.07 465.01 L93.71 465.01 L94.36 465.00 L95.00 464.99 L95.65 464.99 L96.29 464.98 L96.94 464.97 L97.58 464.97 L98.23 464.96 L98.87 464.96 L99.52 464.95 L100.16 464.94 L100.81 464.94 L101.45 464.94 L102.10 464.93 L102.74 464.93 L103.39 464.92 L104.03 464.92 L104.68 464.92 L105.32 464.92 L105.97 464.91 L106.61 464.91 L107.26 464.91 L107.90 464.91 L108.54 464.91 L109.19 464.91 L109.83 464.91 L110.48 464.92 L111.12 464.92 L111.77 464.92 L112.41 464.92 L113.06 464.93 L113.70 464.93 L114.35 464.93 L114.99 464.94 L115.64 464.94 L116.28 464.95 L116.93 464.95 L117.57 464.96 L118.22 464.96 L118.86 464.97 L119.51 464.97 L120.15 464.98 L120.80 464.98 L121.44 464.98 L122.09 464.99 L122.73 464.99 L123.38 465.00 L124.02 465.00 L124.66 465.00 L125.31 465.00 L125.95 465.01 L126.60 465.01 L127.24 465.01 L127.89 465.01 L128.53 465.01 L129.18 465.02 L129.82 465.02 L130.47 465.02 L131.11 465.02 L131.76 465.02 L132.40 465.02 L133.05 465.02 L133.69 465.02 L134.34 465.02 L134.98 465.02 L135.63 465.02 L136.27 465.02 L136.92 465.02 L137.56 465.02 L138.21 465.02 L138.85 465.02 L139.49 465.02 L140.14 465.02 L140.78 465.02 L141.43 465.02 L142.07 465.02 L142.72 465.02 L143.36 465.02 L144.01 465.02 L144.65 465.02 L145.30 465.02 L145.94 465.02 L146.59 465.02 L147.23 465.02 L147.88 465.01 L148.52 465.01 L149.17 465.01 L149.81 465.01 L150.46 465.00 L151.10 465.00 L151.75 464.99 L152.39 464.99 L153.04 464.98 L153.68 464.98 L154.32 464.97 L154.97 464.96 L155.61 464.96 L156.26 464.95 L156.90 464.94 L157.55 464.93 L158.19 464.92 L158.84 464.91 L159.48 464.90 L160.13 464.89 L160.77 464.88 L161.42 464.87 L162.06 464.86 L162.71 464.85 L163.35 464.84 L164.00 464.83 L164.64 464.82 L165.29 464.81 L165.93 464.80 L166.58 464.80 L167.22 464.79 L167.87 464.78 L168.51 464.77 L169.16 464.76 L169.80 464.76 L170.44 464.75 L171.09 464.74 L171.73 464.74 L172.38 464.73 L173.02 464.73 L173.67 464.73 L174.31 464.72 L174.96 464.72 L175.60 464.72 L176.25 464.71 L176.89 464.71 L177.54 464.71 L178.18 464.71 L178.83 464.70 L179.47 464.70 L180.12 464.70 L180.76 464.70 L181.41 464.70 L182.05 464.69 L182.70 464.69 L183.34 464.69 L183.99 464.69 L184.63 464.69 L185.27 464.68 L185.92 464.68 L186.56 464.68 L187.21 464.67 L187.85 464.67 L188.50 464.66 L189.14 464.66 L189.79 464.65 L190.43 464.65 L191.08 464.64 L191.72 464.64 L192.37 464.63 L193.01 464.63 L193.66 464.62 L194.30 464.62 L194.95 464.61 L195.59 464.60 L196.24 464.60 L196.88 464.59 L197.53 464.58 L198.17 464.58 L198.82 464.57 L199.46 464.56 L200.11 464.56 L200.75 464.55 L201.39 464.54 L202.04 464.54 L202.68 464.53 L203.33 464.52 L203.97 464.52 L204.62 464.51 L205.26 464.51 L205.91 464.50 L206.55 464.49 L207.20 464.49 L207.84 464.48 L208.49 464.47 L209.13 464.47 L209.78 464.46 L210.42 464.45 L211.07 464.45 L211.71 464.44 L212.36 464.43 L213.00 464.43 L213.65 464.42 L214.29 464.41 L214.94 464.41 L215.58 464.40 L216.22 464.39" fill="none" stroke="#e6822f" stroke-width="1.5" stroke-dasharray="4.29 2.86" stroke-dashoffset="3.93"/>
<rect x="59.18" y="462.96" width="4.6" height="3.8" fill="#f72a32"/>
<rect x="74.65" y="455.45" width="4.6" height="3.8" fill="#f72a32"/>
<rect x="90.12" y="426.66" width="4.6" height="3.8" fill="#f72a32"/>
<rect x="105.60" y="411.64" width="4.6" height="3.8" fill="#f72a32"/>
<rect x="121.08" y="410.70" width="4.6" height="3.8" fill="#f72a32"/>
<rect x="136.55" y="408.20" width="4.6" height="3.8" fill="#f72a32"/>
<rect x="152.02" y="409.92" width="4.6" height="3.8" fill="#f72a32"/>
<rect x="167.50" y="413.68" width="4.6" height="3.8" fill="#f72a32"/>
<rect x="182.97" y="414.61" width="4.6" height="3.8" fill="#f72a32"/>
<rect x="198.45" y="358.28" width="4.6" height="3.8" fill="#f72a32"/>
<rect x="213.92" y="367.36" width="4.6" height="3.8" fill="#f72a32"/>
<ellipse cx="61.48" cy="464.86" rx="2.6" ry="2.35" fill="#e6822f"/>
<ellipse cx="76.95" cy="465.18" rx="2.6" ry="2.35" fill="#e6822f"/>
<ellipse cx="92.42" cy="465.02" rx="2.6" ry="2.35" fill="#e6822f"/>
<ellipse cx="107.90" cy="464.86" rx="2.6" ry="2.35" fill="#e6822f"/>
<ellipse cx="123.38" cy="465.02" rx="2.6" ry="2.35" fill="#e6822f"/>
<ellipse cx="138.85" cy="465.02" rx="2.6" ry="2.35" fill="#e6822f"/>
<ellipse cx="154.32" cy="465.02" rx="2.6" ry="2.35" fill="#e6822f"/>
<ellipse cx="169.80" cy="464.71" rx="2.6" ry="2.35" fill="#e6822f"/>
<ellipse cx="185.28" cy="464.71" rx="2.6" ry="2.35" fill="#e6822f"/>
<ellipse cx="200.75" cy="464.55" rx="2.6" ry="2.35" fill="#e6822f"/>
<ellipse cx="216.22" cy="464.39" rx="2.6" ry="2.35" fill="#e6822f"/></g>
<g><path d="M276.50 353.30H457.50V486.50H276.50Z" fill="none" stroke="#404040" stroke-width="1.0"/>
<path d="M273.90 479.84H276.50M273.90 466.52H276.50M273.90 453.20H276.50M273.90 439.88H276.50M273.90 426.56H276.50M273.90 413.24H276.50M273.90 399.92H276.50M273.90 386.60H276.50M273.90 373.28H276.50M273.90 359.96H276.50M275.00 486.50H276.50M275.00 473.18H276.50M275.00 459.86H276.50M275.00 446.54H276.50M275.00 433.22H276.50M275.00 419.90H276.50M275.00 406.58H276.50M275.00 393.26H276.50M275.00 379.94H276.50M275.00 366.62H276.50M275.00 353.30H276.50M291.58 486.50V489.10M321.75 486.50V489.10M351.92 486.50V489.10M382.08 486.50V489.10M412.25 486.50V489.10M442.42 486.50V489.10M306.67 486.50V488.00M336.83 486.50V488.00M367.00 486.50V488.00M397.17 486.50V488.00M427.33 486.50V488.00" stroke="#404040" stroke-width="1.0" fill="none"/>
<text x="270.90" y="482.94" text-anchor="end" class="tl2">0.6</text>
<text x="270.90" y="469.62" text-anchor="end" class="tl2">0.8</text>
<text x="270.90" y="456.30" text-anchor="end" class="tl2">1.0</text>
<text x="270.90" y="442.98" text-anchor="end" class="tl2">1.2</text>
<text x="270.90" y="429.66" text-anchor="end" class="tl2">1.4</text>
<text x="270.90" y="416.34" text-anchor="end" class="tl2">1.6</text>
<text x="270.90" y="403.02" text-anchor="end" class="tl2">1.8</text>
<text x="270.90" y="389.70" text-anchor="end" class="tl2">2.0</text>
<text x="270.90" y="376.38" text-anchor="end" class="tl2">2.2</text>
<text x="270.90" y="363.06" text-anchor="end" class="tl2">2.4</text>
<text x="291.58" y="497.70" text-anchor="middle" class="tl2">0</text>
<text x="321.75" y="497.70" text-anchor="middle" class="tl2">2</text>
<text x="351.92" y="497.70" text-anchor="middle" class="tl2">4</text>
<text x="382.08" y="497.70" text-anchor="middle" class="tl2">6</text>
<text x="412.25" y="497.70" text-anchor="middle" class="tl2">8</text>
<text x="442.42" y="497.70" text-anchor="middle" class="tl2">10</text>
<text x="367.00" y="514.00" text-anchor="middle" class="at2">Number of Remove</text>
<text transform="translate(254.20 419.10) rotate(-90)" text-anchor="middle" class="yl">MAE</text>
<path d="M286.50 364.80h4M294.30 364.80h4.5M303.80 364.80h4" stroke="#f72a32" stroke-width="1.5"/>
<rect x="295.80" y="362.90" width="3.8" height="3.8" fill="#f72a32"/>
<path d="M286.50 375.70h4M294.30 375.70h4.5M303.80 375.70h4" stroke="#e6822f" stroke-width="1.5"/>
<ellipse cx="297.70" cy="375.70" rx="2.4" ry="2.2" fill="#e6822f"/>
<text x="311.20" y="367.40" class="lg2">High value</text>
<text x="311.20" y="378.50" class="lg2">Low value</text>
<path d="M291.58 474.00 L292.21 473.07 L292.84 472.14 L293.47 471.22 L294.10 470.29 L294.73 469.35 L295.35 468.42 L295.98 467.48 L296.61 466.54 L297.24 465.59 L297.87 464.64 L298.50 463.69 L299.12 462.72 L299.75 461.75 L300.38 460.78 L301.01 459.80 L301.64 458.80 L302.27 457.80 L302.90 456.80 L303.52 455.78 L304.15 454.75 L304.78 453.71 L305.41 452.66 L306.04 451.60 L306.67 450.52 L307.30 449.43 L307.92 448.33 L308.55 447.22 L309.18 446.11 L309.81 444.98 L310.44 443.84 L311.07 442.71 L311.69 441.56 L312.32 440.42 L312.95 439.27 L313.58 438.12 L314.21 436.97 L314.84 435.82 L315.47 434.68 L316.09 433.54 L316.72 432.40 L317.35 431.27 L317.98 430.15 L318.61 429.04 L319.24 427.94 L319.86 426.85 L320.49 425.78 L321.12 424.71 L321.75 423.67 L322.38 422.63 L323.01 421.62 L323.64 420.63 L324.26 419.65 L324.89 418.69 L325.52 417.76 L326.15 416.84 L326.78 415.95 L327.41 415.08 L328.03 414.23 L328.66 413.42 L329.29 412.62 L329.92 411.86 L330.55 411.12 L331.18 410.41 L331.81 409.72 L332.43 409.07 L333.06 408.45 L333.69 407.87 L334.32 407.31 L334.95 406.79 L335.58 406.31 L336.20 405.86 L336.83 405.44 L337.46 405.06 L338.09 404.72 L338.72 404.41 L339.35 404.14 L339.98 403.89 L340.60 403.67 L341.23 403.48 L341.86 403.32 L342.49 403.17 L343.12 403.05 L343.75 402.95 L344.37 402.86 L345.00 402.79 L345.63 402.74 L346.26 402.69 L346.89 402.66 L347.52 402.63 L348.15 402.62 L348.77 402.60 L349.40 402.59 L350.03 402.59 L350.66 402.58 L351.29 402.57 L351.92 402.55 L352.55 402.53 L353.17 402.50 L353.80 402.47 L354.43 402.44 L355.06 402.40 L355.69 402.36 L356.32 402.32 L356.94 402.27 L357.57 402.22 L358.20 402.18 L358.83 402.13 L359.46 402.08 L360.09 402.03 L360.72 401.99 L361.34 401.94 L361.97 401.90 L362.60 401.87 L363.23 401.83 L363.86 401.80 L364.49 401.78 L365.11 401.76 L365.74 401.75 L366.37 401.74 L367.00 401.74 L367.63 401.75 L368.26 401.76 L368.89 401.78 L369.51 401.81 L370.14 401.85 L370.77 401.89 L371.40 401.94 L372.03 401.99 L372.66 402.05 L373.28 402.11 L373.91 402.19 L374.54 402.26 L375.17 402.34 L375.80 402.43 L376.43 402.51 L377.06 402.61 L377.68 402.70 L378.31 402.81 L378.94 402.91 L379.57 403.02 L380.20 403.13 L380.83 403.24 L381.45 403.35 L382.08 403.47 L382.71 403.59 L383.34 403.71 L383.97 403.83 L384.60 403.96 L385.23 404.08 L385.85 404.20 L386.48 404.33 L387.11 404.45 L387.74 404.57 L388.37 404.69 L389.00 404.81 L389.63 404.92 L390.25 405.04 L390.88 405.15 L391.51 405.25 L392.14 405.35 L392.77 405.45 L393.40 405.55 L394.02 405.63 L394.65 405.72 L395.28 405.79 L395.91 405.86 L396.54 405.93 L397.17 405.99 L397.80 406.04 L398.42 406.07 L399.05 406.10 L399.68 406.11 L400.31 406.09 L400.94 406.06 L401.57 405.99 L402.19 405.90 L402.82 405.77 L403.45 405.61 L404.08 405.40 L404.71 405.15 L405.34 404.86 L405.97 404.51 L406.59 404.11 L407.22 403.66 L407.85 403.14 L408.48 402.56 L409.11 401.92 L409.74 401.20 L410.36 400.41 L410.99 399.55 L411.62 398.60 L412.25 397.58 L412.88 396.46 L413.51 395.27 L414.14 394.01 L414.76 392.68 L415.39 391.30 L416.02 389.88 L416.65 388.41 L417.28 386.90 L417.91 385.38 L418.53 383.83 L419.16 382.28 L419.79 380.72 L420.42 379.17 L421.05 377.63 L421.68 376.12 L422.31 374.63 L422.93 373.18 L423.56 371.77 L424.19 370.41 L424.82 369.11 L425.45 367.88 L426.08 366.73 L426.70 365.65 L427.33 364.67 L427.96 363.78 L428.59 362.98 L429.22 362.28 L429.85 361.66 L430.48 361.12 L431.10 360.65 L431.73 360.26 L432.36 359.94 L432.99 359.69 L433.62 359.49 L434.25 359.35 L434.88 359.27 L435.50 359.23 L436.13 359.24 L436.76 359.29 L437.39 359.37 L438.02 359.49 L438.65 359.64 L439.27 359.81 L439.90 360.00 L440.53 360.20 L441.16 360.42 L441.79 360.65 L442.42 360.88" fill="none" stroke="#f72a32" stroke-width="1.5" stroke-dasharray="4.18 2.78" stroke-dashoffset="3.83"/>
<path d="M291.58 474.33 L292.21 474.34 L292.84 474.35 L293.47 474.36 L294.10 474.36 L294.73 474.37 L295.35 474.38 L295.98 474.39 L296.61 474.40 L297.24 474.40 L297.87 474.41 L298.50 474.42 L299.12 474.43 L299.75 474.43 L300.38 474.44 L301.01 474.44 L301.64 474.45 L302.27 474.45 L302.90 474.46 L303.52 474.46 L304.15 474.46 L304.78 474.47 L305.41 474.47 L306.04 474.47 L306.67 474.47 L307.30 474.47 L307.92 474.47 L308.55 474.46 L309.18 474.46 L309.81 474.46 L310.44 474.46 L311.07 474.45 L311.69 474.45 L312.32 474.44 L312.95 474.44 L313.58 474.43 L314.21 474.43 L314.84 474.42 L315.47 474.42 L316.09 474.41 L316.72 474.41 L317.35 474.41 L317.98 474.40 L318.61 474.40 L319.24 474.39 L319.86 474.39 L320.49 474.39 L321.12 474.38 L321.75 474.38 L322.38 474.38 L323.01 474.38 L323.64 474.38 L324.26 474.38 L324.89 474.38 L325.52 474.38 L326.15 474.39 L326.78 474.39 L327.41 474.39 L328.03 474.39 L328.66 474.39 L329.29 474.40 L329.92 474.40 L330.55 474.40 L331.18 474.41 L331.81 474.41 L332.43 474.41 L333.06 474.41 L333.69 474.42 L334.32 474.42 L334.95 474.42 L335.58 474.42 L336.20 474.42 L336.83 474.42 L337.46 474.42 L338.09 474.42 L338.72 474.42 L339.35 474.42 L339.98 474.42 L340.60 474.41 L341.23 474.41 L341.86 474.41 L342.49 474.41 L343.12 474.40 L343.75 474.40 L344.37 474.40 L345.00 474.39 L345.63 474.39 L346.26 474.39 L346.89 474.38 L347.52 474.38 L348.15 474.38 L348.77 474.38 L349.40 474.38 L350.03 474.37 L350.66 474.37 L351.29 474.37 L351.92 474.37 L352.55 474.37 L353.17 474.37 L353.80 474.37 L354.43 474.38 L355.06 474.38 L355.69 474.38 L356.32 474.38 L356.94 474.39 L357.57 474.39 L358.20 474.39 L358.83 474.39 L359.46 474.40 L360.09 474.40 L360.72 474.40 L361.34 474.40 L361.97 474.41 L362.60 474.41 L363.23 474.41 L363.86 474.41 L364.49 474.41 L365.11 474.41 L365.74 474.41 L366.37 474.41 L367.00 474.41 L367.63 474.41 L368.26 474.41 L368.89 474.41 L369.51 474.40 L370.14 474.40 L370.77 474.40 L371.40 474.39 L372.03 474.39 L372.66 474.38 L373.28 474.37 L373.91 474.36 L374.54 474.36 L375.17 474.35 L375.80 474.34 L376.43 474.33 L377.06 474.32 L377.68 474.31 L378.31 474.29 L378.94 474.28 L379.57 474.27 L380.20 474.25 L380.83 474.24 L381.45 474.22 L382.08 474.20 L382.71 474.19 L383.34 474.17 L383.97 474.15 L384.60 474.13 L385.23 474.11 L385.85 474.09 L386.48 474.07 L387.11 474.05 L387.74 474.03 L388.37 474.01 L389.00 473.98 L389.63 473.96 L390.25 473.94 L390.88 473.92 L391.51 473.89 L392.14 473.87 L392.77 473.85 L393.40 473.82 L394.02 473.80 L394.65 473.78 L395.28 473.75 L395.91 473.73 L396.54 473.71 L397.17 473.68 L397.80 473.66 L398.42 473.64 L399.05 473.62 L399.68 473.60 L400.31 473.58 L400.94 473.55 L401.57 473.53 L402.19 473.51 L402.82 473.49 L403.45 473.47 L404.08 473.46 L404.71 473.44 L405.34 473.42 L405.97 473.40 L406.59 473.39 L407.22 473.37 L407.85 473.35 L408.48 473.34 L409.11 473.32 L409.74 473.31 L410.36 473.30 L410.99 473.28 L411.62 473.27 L412.25 473.26 L412.88 473.25 L413.51 473.24 L414.14 473.23 L414.76 473.22 L415.39 473.21 L416.02 473.21 L416.65 473.20 L417.28 473.19 L417.91 473.19 L418.53 473.18 L419.16 473.17 L419.79 473.17 L420.42 473.16 L421.05 473.15 L421.68 473.14 L422.31 473.14 L422.93 473.13 L423.56 473.12 L424.19 473.11 L424.82 473.10 L425.45 473.09 L426.08 473.08 L426.70 473.07 L427.33 473.06 L427.96 473.05 L428.59 473.04 L429.22 473.02 L429.85 473.01 L430.48 472.99 L431.10 472.97 L431.73 472.96 L432.36 472.94 L432.99 472.92 L433.62 472.90 L434.25 472.88 L434.88 472.86 L435.50 472.84 L436.13 472.82 L436.76 472.80 L437.39 472.78 L438.02 472.76 L438.65 472.74 L439.27 472.71 L439.90 472.69 L440.53 472.67 L441.16 472.65 L441.79 472.62 L442.42 472.60" fill="none" stroke="#e6822f" stroke-width="1.5" stroke-dasharray="4.18 2.78" stroke-dashoffset="3.83"/>
<rect x="289.28" y="472.10" width="4.6" height="3.8" fill="#f72a32"/>
<rect x="304.37" y="449.69" width="4.6" height="3.8" fill="#f72a32"/>
<rect x="319.45" y="420.43" width="4.6" height="3.8" fill="#f72a32"/>
<rect x="334.53" y="400.48" width="4.6" height="3.8" fill="#f72a32"/>
<rect x="349.62" y="401.14" width="4.6" height="3.8" fill="#f72a32"/>
<rect x="364.70" y="399.21" width="4.6" height="3.8" fill="#f72a32"/>
<rect x="379.78" y="401.41" width="4.6" height="3.8" fill="#f72a32"/>
<rect x="394.87" y="404.67" width="4.6" height="3.8" fill="#f72a32"/>
<rect x="409.95" y="402.80" width="4.6" height="3.8" fill="#f72a32"/>
<rect x="425.03" y="354.73" width="4.6" height="3.8" fill="#f72a32"/>
<rect x="440.12" y="358.98" width="4.6" height="3.8" fill="#f72a32"/>
<ellipse cx="291.58" cy="474.33" rx="2.6" ry="2.35" fill="#e6822f"/>
<ellipse cx="306.67" cy="474.53" rx="2.6" ry="2.35" fill="#e6822f"/>
<ellipse cx="321.75" cy="474.33" rx="2.6" ry="2.35" fill="#e6822f"/>
<ellipse cx="336.83" cy="474.46" rx="2.6" ry="2.35" fill="#e6822f"/>
<ellipse cx="351.92" cy="474.33" rx="2.6" ry="2.35" fill="#e6822f"/>
<ellipse cx="367.00" cy="474.46" rx="2.6" ry="2.35" fill="#e6822f"/>
<ellipse cx="382.08" cy="474.26" rx="2.6" ry="2.35" fill="#e6822f"/>
<ellipse cx="397.17" cy="473.67" rx="2.6" ry="2.35" fill="#e6822f"/>
<ellipse cx="412.25" cy="473.20" rx="2.6" ry="2.35" fill="#e6822f"/>
<ellipse cx="427.33" cy="473.13" rx="2.6" ry="2.35" fill="#e6822f"/>
<ellipse cx="442.42" cy="472.60" rx="2.6" ry="2.35" fill="#e6822f"/></g>
<g><path d="M502.50 353.50H683.50V486.50H502.50Z" fill="none" stroke="#404040" stroke-width="1.0"/>
<path d="M499.90 486.50H502.50M499.90 473.20H502.50M499.90 459.90H502.50M499.90 446.60H502.50M499.90 433.30H502.50M499.90 420.00H502.50M499.90 406.70H502.50M499.90 393.40H502.50M499.90 380.10H502.50M499.90 366.80H502.50M499.90 353.50H502.50M501.00 479.85H502.50M501.00 466.55H502.50M501.00 453.25H502.50M501.00 439.95H502.50M501.00 426.65H502.50M501.00 413.35H502.50M501.00 400.05H502.50M501.00 386.75H502.50M501.00 373.45H502.50M501.00 360.15H502.50M517.58 486.50V489.10M547.75 486.50V489.10M577.92 486.50V489.10M608.08 486.50V489.10M638.25 486.50V489.10M668.42 486.50V489.10M532.67 486.50V488.00M562.83 486.50V488.00M593.00 486.50V488.00M623.17 486.50V488.00M653.33 486.50V488.00" stroke="#404040" stroke-width="1.0" fill="none"/>
<text x="496.90" y="489.60" text-anchor="end" class="tl2">1.0</text>
<text x="496.90" y="476.30" text-anchor="end" class="tl2">1.2</text>
<text x="496.90" y="463.00" text-anchor="end" class="tl2">1.4</text>
<text x="496.90" y="449.70" text-anchor="end" class="tl2">1.6</text>
<text x="496.90" y="436.40" text-anchor="end" class="tl2">1.8</text>
<text x="496.90" y="423.10" text-anchor="end" class="tl2">2.0</text>
<text x="496.90" y="409.80" text-anchor="end" class="tl2">2.2</text>
<text x="496.90" y="396.50" text-anchor="end" class="tl2">2.4</text>
<text x="496.90" y="383.20" text-anchor="end" class="tl2">2.6</text>
<text x="496.90" y="369.90" text-anchor="end" class="tl2">2.8</text>
<text x="496.90" y="356.60" text-anchor="end" class="tl2">3.0</text>
<text x="517.58" y="497.70" text-anchor="middle" class="tl2">0</text>
<text x="547.75" y="497.70" text-anchor="middle" class="tl2">2</text>
<text x="577.92" y="497.70" text-anchor="middle" class="tl2">4</text>
<text x="608.08" y="497.70" text-anchor="middle" class="tl2">6</text>
<text x="638.25" y="497.70" text-anchor="middle" class="tl2">8</text>
<text x="668.42" y="497.70" text-anchor="middle" class="tl2">10</text>
<text x="593.00" y="514.00" text-anchor="middle" class="at2">Number of Remove</text>
<text transform="translate(480.00 419.20) rotate(-90)" text-anchor="middle" class="yl">RMSE</text>
<path d="M512.50 365.00h4M520.30 365.00h4.5M529.80 365.00h4" stroke="#f72a32" stroke-width="1.5"/>
<rect x="521.80" y="363.10" width="3.8" height="3.8" fill="#f72a32"/>
<path d="M512.50 375.90h4M520.30 375.90h4.5M529.80 375.90h4" stroke="#e6822f" stroke-width="1.5"/>
<ellipse cx="523.70" cy="375.90" rx="2.4" ry="2.2" fill="#e6822f"/>
<text x="537.20" y="367.60" class="lg2">High value</text>
<text x="537.20" y="378.70" class="lg2">Low value</text>
<path d="M517.58 462.01 L518.21 461.61 L518.84 461.20 L519.47 460.78 L520.10 460.37 L520.73 459.94 L521.35 459.51 L521.98 459.06 L522.61 458.60 L523.24 458.12 L523.87 457.63 L524.50 457.12 L525.13 456.59 L525.75 456.04 L526.38 455.46 L527.01 454.85 L527.64 454.22 L528.27 453.56 L528.90 452.86 L529.52 452.13 L530.15 451.36 L530.78 450.56 L531.41 449.72 L532.04 448.83 L532.67 447.90 L533.30 446.93 L533.92 445.92 L534.55 444.86 L535.18 443.78 L535.81 442.66 L536.44 441.51 L537.07 440.34 L537.69 439.14 L538.32 437.93 L538.95 436.71 L539.58 435.47 L540.21 434.23 L540.84 432.98 L541.47 431.73 L542.09 430.49 L542.72 429.25 L543.35 428.02 L543.98 426.80 L544.61 425.60 L545.24 424.42 L545.86 423.27 L546.49 422.14 L547.12 421.04 L547.75 419.98 L548.38 418.95 L549.01 417.96 L549.64 417.01 L550.26 416.09 L550.89 415.21 L551.52 414.36 L552.15 413.54 L552.78 412.76 L553.41 412.02 L554.03 411.30 L554.66 410.61 L555.29 409.96 L555.92 409.34 L556.55 408.74 L557.18 408.18 L557.81 407.65 L558.43 407.14 L559.06 406.66 L559.69 406.21 L560.32 405.78 L560.95 405.38 L561.58 405.01 L562.20 404.66 L562.83 404.33 L563.46 404.03 L564.09 403.75 L564.72 403.49 L565.35 403.25 L565.98 403.03 L566.60 402.83 L567.23 402.64 L567.86 402.48 L568.49 402.32 L569.12 402.18 L569.75 402.06 L570.37 401.94 L571.00 401.84 L571.63 401.74 L572.26 401.65 L572.89 401.58 L573.52 401.50 L574.15 401.43 L574.77 401.37 L575.40 401.31 L576.03 401.25 L576.66 401.19 L577.29 401.14 L577.92 401.08 L578.55 401.02 L579.17 400.95 L579.80 400.89 L580.43 400.82 L581.06 400.76 L581.69 400.69 L582.32 400.62 L582.94 400.56 L583.57 400.49 L584.20 400.42 L584.83 400.36 L585.46 400.30 L586.09 400.23 L586.72 400.17 L587.34 400.12 L587.97 400.07 L588.60 400.02 L589.23 399.97 L589.86 399.93 L590.49 399.89 L591.11 399.85 L591.74 399.83 L592.37 399.80 L593.00 399.79 L593.63 399.78 L594.26 399.77 L594.89 399.77 L595.51 399.78 L596.14 399.79 L596.77 399.81 L597.40 399.83 L598.03 399.86 L598.66 399.90 L599.28 399.94 L599.91 399.98 L600.54 400.03 L601.17 400.09 L601.80 400.15 L602.43 400.21 L603.06 400.28 L603.68 400.36 L604.31 400.44 L604.94 400.52 L605.57 400.61 L606.20 400.70 L606.83 400.80 L607.45 400.90 L608.08 401.01 L608.71 401.12 L609.34 401.23 L609.97 401.35 L610.60 401.47 L611.23 401.59 L611.85 401.71 L612.48 401.84 L613.11 401.97 L613.74 402.09 L614.37 402.22 L615.00 402.36 L615.62 402.49 L616.25 402.62 L616.88 402.75 L617.51 402.88 L618.14 403.01 L618.77 403.14 L619.40 403.27 L620.02 403.39 L620.65 403.51 L621.28 403.63 L621.91 403.75 L622.54 403.86 L623.17 403.97 L623.80 404.08 L624.42 404.18 L625.05 404.27 L625.68 404.34 L626.31 404.40 L626.94 404.43 L627.57 404.44 L628.19 404.42 L628.82 404.37 L629.45 404.29 L630.08 404.16 L630.71 404.00 L631.34 403.79 L631.97 403.53 L632.59 403.21 L633.22 402.85 L633.85 402.42 L634.48 401.93 L635.11 401.37 L635.74 400.75 L636.36 400.05 L636.99 399.27 L637.62 398.41 L638.25 397.47 L638.88 396.45 L639.51 395.34 L640.14 394.17 L640.76 392.93 L641.39 391.63 L642.02 390.29 L642.65 388.90 L643.28 387.48 L643.91 386.04 L644.53 384.58 L645.16 383.10 L645.79 381.63 L646.42 380.16 L647.05 378.71 L647.68 377.27 L648.31 375.86 L648.93 374.49 L649.56 373.17 L650.19 371.89 L650.82 370.68 L651.45 369.53 L652.08 368.45 L652.70 367.46 L653.33 366.56 L653.96 365.76 L654.59 365.05 L655.22 364.42 L655.85 363.89 L656.48 363.43 L657.10 363.06 L657.73 362.75 L658.36 362.52 L658.99 362.35 L659.62 362.24 L660.25 362.19 L660.88 362.19 L661.50 362.24 L662.13 362.34 L662.76 362.47 L663.39 362.65 L664.02 362.85 L664.65 363.09 L665.27 363.35 L665.90 363.62 L666.53 363.92 L667.16 364.23 L667.79 364.54 L668.42 364.86" fill="none" stroke="#f72a32" stroke-width="1.5" stroke-dasharray="4.18 2.78" stroke-dashoffset="3.83"/>
<path d="M517.58 462.01 L518.21 462.04 L518.84 462.07 L519.47 462.09 L520.10 462.12 L520.73 462.14 L521.35 462.17 L521.98 462.19 L522.61 462.21 L523.24 462.24 L523.87 462.26 L524.50 462.28 L525.13 462.30 L525.75 462.31 L526.38 462.33 L527.01 462.34 L527.64 462.35 L528.27 462.36 L528.90 462.37 L529.52 462.38 L530.15 462.38 L530.78 462.38 L531.41 462.38 L532.04 462.37 L532.67 462.37 L533.30 462.36 L533.92 462.34 L534.55 462.33 L535.18 462.31 L535.81 462.29 L536.44 462.27 L537.07 462.24 L537.69 462.22 L538.32 462.19 L538.95 462.17 L539.58 462.14 L540.21 462.11 L540.84 462.08 L541.47 462.05 L542.09 462.02 L542.72 461.99 L543.35 461.97 L543.98 461.94 L544.61 461.91 L545.24 461.89 L545.86 461.86 L546.49 461.84 L547.12 461.82 L547.75 461.80 L548.38 461.78 L549.01 461.77 L549.64 461.76 L550.26 461.75 L550.89 461.74 L551.52 461.73 L552.15 461.73 L552.78 461.72 L553.41 461.72 L554.03 461.72 L554.66 461.72 L555.29 461.72 L555.92 461.73 L556.55 461.73 L557.18 461.74 L557.81 461.74 L558.43 461.75 L559.06 461.75 L559.69 461.76 L560.32 461.77 L560.95 461.78 L561.58 461.78 L562.20 461.79 L562.83 461.80 L563.46 461.81 L564.09 461.81 L564.72 461.82 L565.35 461.83 L565.98 461.83 L566.60 461.84 L567.23 461.85 L567.86 461.85 L568.49 461.86 L569.12 461.87 L569.75 461.87 L570.37 461.88 L571.00 461.89 L571.63 461.89 L572.26 461.90 L572.89 461.91 L573.52 461.91 L574.15 461.92 L574.77 461.92 L575.40 461.93 L576.03 461.94 L576.66 461.94 L577.29 461.95 L577.92 461.96 L578.55 461.97 L579.17 461.97 L579.80 461.98 L580.43 461.99 L581.06 462.00 L581.69 462.00 L582.32 462.01 L582.94 462.02 L583.57 462.02 L584.20 462.03 L584.83 462.04 L585.46 462.04 L586.09 462.05 L586.72 462.05 L587.34 462.06 L587.97 462.06 L588.60 462.06 L589.23 462.07 L589.86 462.07 L590.49 462.07 L591.11 462.07 L591.74 462.07 L592.37 462.07 L593.00 462.06 L593.63 462.06 L594.26 462.06 L594.89 462.05 L595.51 462.05 L596.14 462.04 L596.77 462.03 L597.40 462.02 L598.03 462.02 L598.66 462.01 L599.28 462.00 L599.91 461.99 L600.54 461.98 L601.17 461.97 L601.80 461.96 L602.43 461.94 L603.06 461.93 L603.68 461.92 L604.31 461.91 L604.94 461.90 L605.57 461.89 L606.20 461.88 L606.83 461.87 L607.45 461.86 L608.08 461.85 L608.71 461.84 L609.34 461.83 L609.97 461.82 L610.60 461.81 L611.23 461.80 L611.85 461.79 L612.48 461.78 L613.11 461.78 L613.74 461.77 L614.37 461.76 L615.00 461.76 L615.62 461.75 L616.25 461.74 L616.88 461.73 L617.51 461.73 L618.14 461.72 L618.77 461.71 L619.40 461.71 L620.02 461.70 L620.65 461.69 L621.28 461.68 L621.91 461.68 L622.54 461.67 L623.17 461.66 L623.80 461.65 L624.42 461.64 L625.05 461.63 L625.68 461.62 L626.31 461.62 L626.94 461.61 L627.57 461.60 L628.19 461.59 L628.82 461.58 L629.45 461.57 L630.08 461.56 L630.71 461.55 L631.34 461.54 L631.97 461.53 L632.59 461.52 L633.22 461.51 L633.85 461.50 L634.48 461.49 L635.11 461.48 L635.74 461.47 L636.36 461.46 L636.99 461.45 L637.62 461.44 L638.25 461.44 L638.88 461.43 L639.51 461.42 L640.14 461.41 L640.76 461.40 L641.39 461.40 L642.02 461.39 L642.65 461.38 L643.28 461.38 L643.91 461.37 L644.53 461.36 L645.16 461.36 L645.79 461.35 L646.42 461.34 L647.05 461.33 L647.68 461.33 L648.31 461.32 L648.93 461.31 L649.56 461.31 L650.19 461.30 L650.82 461.29 L651.45 461.29 L652.08 461.28 L652.70 461.27 L653.33 461.26 L653.96 461.25 L654.59 461.24 L655.22 461.24 L655.85 461.23 L656.48 461.22 L657.10 461.21 L657.73 461.20 L658.36 461.19 L658.99 461.18 L659.62 461.17 L660.25 461.16 L660.88 461.15 L661.50 461.14 L662.13 461.13 L662.76 461.12 L663.39 461.10 L664.02 461.09 L664.65 461.08 L665.27 461.07 L665.90 461.06 L666.53 461.05 L667.16 461.04 L667.79 461.03 L668.42 461.02" fill="none" stroke="#e6822f" stroke-width="1.5" stroke-dasharray="4.18 2.78" stroke-dashoffset="3.83"/>
<rect x="515.28" y="460.11" width="4.6" height="3.8" fill="#f72a32"/>
<rect x="530.37" y="449.75" width="4.6" height="3.8" fill="#f72a32"/>
<rect x="545.45" y="414.99" width="4.6" height="3.8" fill="#f72a32"/>
<rect x="560.53" y="400.51" width="4.6" height="3.8" fill="#f72a32"/>
<rect x="575.62" y="399.38" width="4.6" height="3.8" fill="#f72a32"/>
<rect x="590.70" y="397.38" width="4.6" height="3.8" fill="#f72a32"/>
<rect x="605.78" y="398.78" width="4.6" height="3.8" fill="#f72a32"/>
<rect x="620.87" y="402.37" width="4.6" height="3.8" fill="#f72a32"/>
<rect x="635.95" y="402.77" width="4.6" height="3.8" fill="#f72a32"/>
<rect x="651.03" y="356.58" width="4.6" height="3.8" fill="#f72a32"/>
<rect x="666.12" y="362.96" width="4.6" height="3.8" fill="#f72a32"/>
<ellipse cx="517.58" cy="462.01" rx="2.6" ry="2.35" fill="#e6822f"/>
<ellipse cx="532.67" cy="462.61" rx="2.6" ry="2.35" fill="#e6822f"/>
<ellipse cx="547.75" cy="461.61" rx="2.6" ry="2.35" fill="#e6822f"/>
<ellipse cx="562.83" cy="461.81" rx="2.6" ry="2.35" fill="#e6822f"/>
<ellipse cx="577.92" cy="461.95" rx="2.6" ry="2.35" fill="#e6822f"/>
<ellipse cx="593.00" cy="462.15" rx="2.6" ry="2.35" fill="#e6822f"/>
<ellipse cx="608.08" cy="461.81" rx="2.6" ry="2.35" fill="#e6822f"/>
<ellipse cx="623.17" cy="461.68" rx="2.6" ry="2.35" fill="#e6822f"/>
<ellipse cx="638.25" cy="461.41" rx="2.6" ry="2.35" fill="#e6822f"/>
<ellipse cx="653.33" cy="461.28" rx="2.6" ry="2.35" fill="#e6822f"/>
<ellipse cx="668.42" cy="461.02" rx="2.6" ry="2.35" fill="#e6822f"/></g>
<text x="0.8" y="15.8" class="pl">A</text>
<text x="1.0" y="184.4" class="pl">B</text>
<text x="0.9" y="359.8" class="pl">C</text>
</g>
</svg></div>
</body></html>
